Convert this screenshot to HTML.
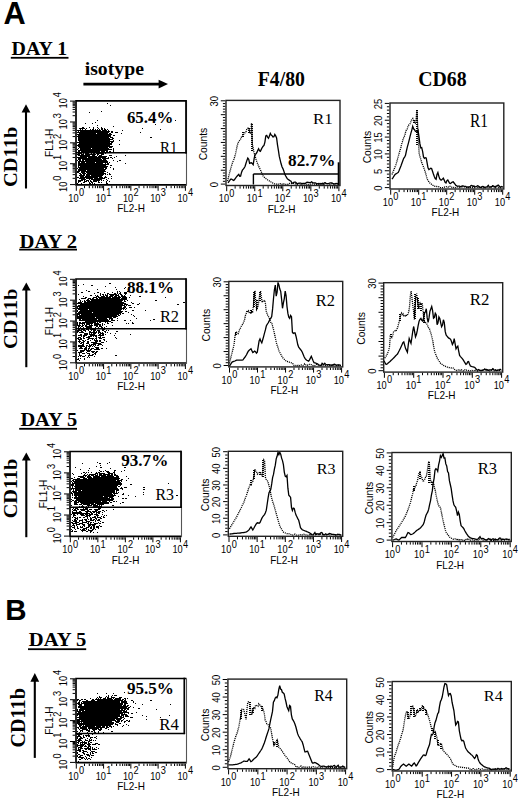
<!DOCTYPE html>
<html><head><meta charset="utf-8"><title>Figure</title>
<style>html,body{margin:0;padding:0;background:#fff;width:520px;height:802px;overflow:hidden}svg{display:block}</style>
</head><body>
<svg width="520" height="802" viewBox="0 0 520 802" shape-rendering="auto">
<rect width="520" height="802" fill="#fff"/>
<text transform="translate(3.38,24.11) scale(0.996,1)" font-family="Liberation Sans" font-weight="bold" font-size="30.88" fill="#000">A</text>
<text transform="translate(5.33,620.00) scale(0.993,1)" font-family="Liberation Sans" font-weight="bold" font-size="29.71" fill="#000">B</text>
<text transform="translate(11.60,55.00) scale(1.004,1)" font-family="Liberation Serif" font-weight="bold" font-size="19.85" fill="#000">DAY 1</text>
<rect x="10.8" y="56.9" width="57.7" height="1.8" fill="#000"/>
<text transform="translate(19.59,247.61) scale(1.082,1)" font-family="Liberation Serif" font-weight="bold" font-size="19.10" fill="#000">DAY 2</text>
<rect x="19.2" y="248.7" width="57.8" height="1.8" fill="#000"/>
<text transform="translate(20.39,425.81) scale(1.094,1)" font-family="Liberation Serif" font-weight="bold" font-size="18.66" fill="#000">DAY 5</text>
<rect x="19.2" y="427.90000000000003" width="57.8" height="1.8" fill="#000"/>
<text transform="translate(28.79,646.31) scale(1.095,1)" font-family="Liberation Serif" font-weight="bold" font-size="18.81" fill="#000">DAY 5</text>
<rect x="28" y="648.3000000000001" width="58.2" height="1.8" fill="#000"/>
<text transform="translate(84.71,75.12) scale(1.015,1)" font-family="Liberation Serif" font-weight="bold" font-size="19.44" fill="#000">isotype</text>
<line x1="83.4" y1="84.1" x2="160" y2="84.1" stroke="#000" stroke-width="2.6"/>
<polygon points="158.6,79.8 168,84.1 158.6,88.4" fill="#000"/>
<text transform="translate(257.70,85.90) scale(0.989,1)" font-family="Liberation Serif" font-weight="bold" font-size="20.00" fill="#000">F4/80</text>
<text transform="translate(418.21,85.89) scale(0.977,1)" font-family="Liberation Serif" font-weight="bold" font-size="20.30" fill="#000">CD68</text>
<text transform="translate(17.00,187.02) rotate(-90) scale(1.047,1)" font-family="Liberation Serif" font-weight="bold" font-size="19.57" fill="#000">CD11b</text>
<line x1="26.0" y1="111.4" x2="26.0" y2="188.5" stroke="#000" stroke-width="2.1"/>
<polygon points="21.6,112.4 26.0,104.3 30.4,112.4" fill="#000"/>
<text transform="translate(16.61,348.92) rotate(-90) scale(1.078,1)" font-family="Liberation Serif" font-weight="bold" font-size="19.00" fill="#000">CD11b</text>
<line x1="26.3" y1="289.6" x2="26.3" y2="367.2" stroke="#000" stroke-width="2.1"/>
<polygon points="21.9,290.6 26.3,282.5 30.700000000000003,290.6" fill="#000"/>
<text transform="translate(16.61,518.31) rotate(-90) scale(1.067,1)" font-family="Liberation Serif" font-weight="bold" font-size="19.00" fill="#000">CD11b</text>
<line x1="26.3" y1="459.6" x2="26.3" y2="537.2" stroke="#000" stroke-width="2.1"/>
<polygon points="21.9,460.6 26.3,452.5 30.700000000000003,460.6" fill="#000"/>
<text transform="translate(25.30,747.61) rotate(-90) scale(0.991,1)" font-family="Liberation Serif" font-weight="bold" font-size="20.43" fill="#000">CD11b</text>
<line x1="34.8" y1="680.8" x2="34.8" y2="757.9" stroke="#000" stroke-width="2.1"/>
<polygon points="30.4,681.8 34.8,673.1 39.199999999999996,681.8" fill="#000"/>
<path d="M107 103h1v1h-1zM110 105h1v1h-1zM101 111h1v1h-1zM89 112h1v1h-1zM97 120h1v1h-1zM175 120h1v1h-1zM167 121h1v1h-1zM95 122h1v1h-1zM85 123h1v1h-1zM92 123h1v1h-1zM155 124h1v1h-1zM97 125h1v1h-1zM113 126h1v1h-1zM82 127h2v1h-2zM89 127h1v1h-1zM93 127h1v1h-1zM97 127h1v1h-1zM101 127h1v1h-1zM79 128h6v1h-6zM86 128h1v1h-1zM93 128h1v1h-1zM98 128h1v1h-1zM101 128h2v1h-2zM104 128h1v1h-1zM142 128h1v1h-1zM80 129h1v1h-1zM82 129h1v1h-1zM85 129h1v1h-1zM90 129h1v1h-1zM92 129h2v1h-2zM95 129h1v1h-1zM97 129h1v1h-1zM99 129h1v1h-1zM101 129h2v1h-2zM104 129h2v1h-2zM107 129h1v1h-1zM160 129h1v1h-1zM77 130h24v1h-24zM102 130h5v1h-5zM108 130h1v1h-1zM122 130h1v1h-1zM78 131h1v1h-1zM80 131h30v1h-30zM111 131h2v1h-2zM77 132h32v1h-32zM111 132h2v1h-2zM115 132h3v1h-3zM140 132h1v1h-1zM79 133h17v1h-17zM97 133h11v1h-11zM109 133h2v1h-2zM121 133h1v1h-1zM77 134h35v1h-35zM78 135h33v1h-33zM113 135h2v1h-2zM77 136h34v1h-34zM78 137h31v1h-31zM110 137h3v1h-3zM150 137h2v1h-2zM78 138h32v1h-32zM112 138h2v1h-2zM78 139h35v1h-35zM78 140h32v1h-32zM113 140h1v1h-1zM119 140h1v1h-1zM79 141h35v1h-35zM77 142h33v1h-33zM111 142h2v1h-2zM79 143h33v1h-33zM78 144h34v1h-34zM119 144h1v1h-1zM77 145h33v1h-33zM78 146h35v1h-35zM79 147h29v1h-29zM109 147h3v1h-3zM78 148h1v1h-1zM80 148h11v1h-11zM92 148h17v1h-17zM113 148h1v1h-1zM77 149h1v1h-1zM80 149h32v1h-32zM113 149h1v1h-1zM78 150h30v1h-30zM113 150h1v1h-1zM78 151h2v1h-2zM81 151h19v1h-19zM101 151h4v1h-4zM106 151h2v1h-2zM109 151h2v1h-2zM113 151h1v1h-1zM81 152h4v1h-4zM86 152h1v1h-1zM88 152h3v1h-3zM93 152h12v1h-12zM108 152h2v1h-2zM78 153h4v1h-4zM83 153h1v1h-1zM85 153h4v1h-4zM91 153h1v1h-1zM93 153h2v1h-2zM96 153h8v1h-8zM105 153h1v1h-1zM77 154h3v1h-3zM81 154h3v1h-3zM85 154h11v1h-11zM97 154h2v1h-2zM101 154h3v1h-3zM78 155h12v1h-12zM92 155h3v1h-3zM97 155h1v1h-1zM99 155h3v1h-3zM109 155h3v1h-3zM125 155h1v1h-1zM80 156h17v1h-17zM98 156h9v1h-9zM116 156h1v1h-1zM77 157h10v1h-10zM88 157h18v1h-18zM108 157h1v1h-1zM110 157h2v1h-2zM114 157h1v1h-1zM78 158h23v1h-23zM102 158h7v1h-7zM112 158h1v1h-1zM78 159h3v1h-3zM82 159h20v1h-20zM103 159h3v1h-3zM77 160h1v1h-1zM79 160h2v1h-2zM82 160h2v1h-2zM85 160h22v1h-22zM113 160h1v1h-1zM119 160h2v1h-2zM78 161h30v1h-30zM117 161h1v1h-1zM78 162h2v1h-2zM81 162h4v1h-4zM86 162h9v1h-9zM96 162h12v1h-12zM109 162h1v1h-1zM78 163h25v1h-25zM105 163h1v1h-1zM107 163h2v1h-2zM125 163h1v1h-1zM78 164h31v1h-31zM78 165h28v1h-28zM110 165h2v1h-2zM78 166h1v1h-1zM80 166h28v1h-28zM78 167h29v1h-29zM110 167h1v1h-1zM77 168h1v1h-1zM79 168h25v1h-25zM105 168h2v1h-2zM113 168h1v1h-1zM78 169h28v1h-28zM113 169h1v1h-1zM78 170h8v1h-8zM87 170h18v1h-18zM77 171h3v1h-3zM81 171h25v1h-25zM77 172h2v1h-2zM81 172h4v1h-4zM86 172h18v1h-18zM107 172h1v1h-1zM79 173h2v1h-2zM82 173h4v1h-4zM87 173h19v1h-19zM109 173h1v1h-1zM80 174h2v1h-2zM83 174h2v1h-2zM86 174h18v1h-18zM105 174h1v1h-1zM107 174h1v1h-1zM109 174h2v1h-2zM79 175h6v1h-6zM86 175h4v1h-4zM91 175h12v1h-12zM80 176h4v1h-4zM85 176h17v1h-17zM105 176h1v1h-1zM111 176h1v1h-1zM77 177h2v1h-2zM80 177h18v1h-18zM99 177h4v1h-4zM104 177h3v1h-3zM79 178h6v1h-6zM86 178h7v1h-7zM94 178h11v1h-11zM108 178h1v1h-1zM111 178h1v1h-1zM81 179h5v1h-5zM89 179h1v1h-1zM91 179h11v1h-11zM106 179h1v1h-1zM78 180h5v1h-5zM84 180h1v1h-1zM86 180h3v1h-3zM90 180h1v1h-1zM93 180h7v1h-7zM101 180h1v1h-1zM103 180h1v1h-1zM107 180h1v1h-1zM78 181h3v1h-3zM84 181h3v1h-3zM88 181h1v1h-1zM90 181h2v1h-2zM93 181h4v1h-4zM98 181h1v1h-1zM106 181h1v1h-1zM109 181h1v1h-1zM78 182h1v1h-1zM83 182h2v1h-2zM89 182h1v1h-1zM91 182h2v1h-2zM98 182h2v1h-2zM101 182h1v1h-1zM106 182h1v1h-1zM77 183h1v1h-1zM81 183h1v1h-1zM89 183h2v1h-2zM92 183h1v1h-1zM94 183h1v1h-1zM106 183h2v1h-2z" fill="#000"/>
<path d="M186.50 100.80H76.00V184.80H186.50" fill="none" stroke="#000" stroke-width="1.7"/>
<line x1="186.50" y1="100.80" x2="186.50" y2="185.60" stroke="#555" stroke-width="1.1"/>
<line x1="76.00" y1="152.80" x2="186.80" y2="152.80" stroke="#000" stroke-width="1.5"/>
<line x1="186.00" y1="100.00" x2="186.00" y2="153.50" stroke="#000" stroke-width="1.7"/>
<path d="M76.30 185.80v5M84.51 185.80v2.4M89.31 185.80v2.4M92.72 185.80v2.4M95.36 185.80v2.4M97.52 185.80v2.4M99.35 185.80v2.4M100.93 185.80v2.4M102.33 185.80v2.4M103.58 185.80v5M111.79 185.80v2.4M116.59 185.80v2.4M120.00 185.80v2.4M122.64 185.80v2.4M124.80 185.80v2.4M126.63 185.80v2.4M128.21 185.80v2.4M129.60 185.80v2.4M130.85 185.80v5M139.06 185.80v2.4M143.86 185.80v2.4M147.27 185.80v2.4M149.91 185.80v2.4M152.07 185.80v2.4M153.90 185.80v2.4M155.48 185.80v2.4M156.88 185.80v2.4M158.12 185.80v5M166.34 185.80v2.4M171.14 185.80v2.4M174.55 185.80v2.4M177.19 185.80v2.4M179.35 185.80v2.4M181.18 185.80v2.4M182.76 185.80v2.4M184.15 185.80v2.4M185.40 185.80v5" stroke="#000" stroke-width="1" fill="none"/>
<path d="M75.00 184.60h-5M75.00 178.32h-2.4M75.00 174.64h-2.4M75.00 172.03h-2.4M75.00 170.01h-2.4M75.00 168.36h-2.4M75.00 166.96h-2.4M75.00 165.75h-2.4M75.00 164.68h-2.4M75.00 163.73h-5M75.00 157.44h-2.4M75.00 153.77h-2.4M75.00 151.16h-2.4M75.00 149.13h-2.4M75.00 147.48h-2.4M75.00 146.08h-2.4M75.00 144.87h-2.4M75.00 143.81h-2.4M75.00 142.85h-5M75.00 136.57h-2.4M75.00 132.89h-2.4M75.00 130.28h-2.4M75.00 128.26h-2.4M75.00 126.61h-2.4M75.00 125.21h-2.4M75.00 124.00h-2.4M75.00 122.93h-2.4M75.00 121.97h-5M75.00 115.69h-2.4M75.00 112.02h-2.4M75.00 109.41h-2.4M75.00 107.38h-2.4M75.00 105.73h-2.4M75.00 104.33h-2.4M75.00 103.12h-2.4M75.00 102.06h-2.4M75.00 101.10h-5" stroke="#000" stroke-width="1" fill="none"/>
<text transform="translate(68.36,201.70) scale(0.840,1)" font-family="Liberation Sans" font-weight="normal" font-size="11">10</text>
<text transform="translate(78.93,196.10) scale(0.840,1)" font-family="Liberation Sans" font-weight="normal" font-size="11">0</text>
<text transform="translate(95.64,201.70) scale(0.840,1)" font-family="Liberation Sans" font-weight="normal" font-size="11">10</text>
<text transform="translate(106.20,196.10) scale(0.840,1)" font-family="Liberation Sans" font-weight="normal" font-size="11">1</text>
<text transform="translate(122.91,201.70) scale(0.840,1)" font-family="Liberation Sans" font-weight="normal" font-size="11">10</text>
<text transform="translate(133.48,196.10) scale(0.840,1)" font-family="Liberation Sans" font-weight="normal" font-size="11">2</text>
<text transform="translate(150.19,201.70) scale(0.840,1)" font-family="Liberation Sans" font-weight="normal" font-size="11">10</text>
<text transform="translate(160.75,196.10) scale(0.840,1)" font-family="Liberation Sans" font-weight="normal" font-size="11">3</text>
<text transform="translate(177.46,201.70) scale(0.840,1)" font-family="Liberation Sans" font-weight="normal" font-size="11">10</text>
<text transform="translate(188.03,196.10) scale(0.840,1)" font-family="Liberation Sans" font-weight="normal" font-size="11">4</text>
<text transform="translate(131.00,212.00) scale(0.950,1)" font-family="Liberation Sans" font-weight="normal" font-size="10.5" text-anchor="middle">FL2-H</text>
<text transform="translate(66.60,192.00) rotate(-90) scale(0.840,1)" font-family="Liberation Sans" font-weight="normal" font-size="11">10</text>
<text transform="translate(61.00,180.80) rotate(-90) scale(0.840,1)" font-family="Liberation Sans" font-weight="normal" font-size="11">0</text>
<text transform="translate(66.60,171.13) rotate(-90) scale(0.840,1)" font-family="Liberation Sans" font-weight="normal" font-size="11">10</text>
<text transform="translate(61.00,159.93) rotate(-90) scale(0.840,1)" font-family="Liberation Sans" font-weight="normal" font-size="11">1</text>
<text transform="translate(66.60,150.25) rotate(-90) scale(0.840,1)" font-family="Liberation Sans" font-weight="normal" font-size="11">10</text>
<text transform="translate(61.00,139.05) rotate(-90) scale(0.840,1)" font-family="Liberation Sans" font-weight="normal" font-size="11">2</text>
<text transform="translate(66.60,129.38) rotate(-90) scale(0.840,1)" font-family="Liberation Sans" font-weight="normal" font-size="11">10</text>
<text transform="translate(61.00,118.17) rotate(-90) scale(0.840,1)" font-family="Liberation Sans" font-weight="normal" font-size="11">3</text>
<text transform="translate(66.60,108.50) rotate(-90) scale(0.840,1)" font-family="Liberation Sans" font-weight="normal" font-size="11">10</text>
<text transform="translate(61.00,97.30) rotate(-90) scale(0.840,1)" font-family="Liberation Sans" font-weight="normal" font-size="11">4</text>
<text transform="translate(52.50,142.80) rotate(-90) scale(0.980,1)" font-family="Liberation Sans" font-weight="normal" font-size="10.5" text-anchor="middle">FL1-H</text>
<text transform="translate(126.89,123.26) scale(0.984,1)" font-family="Liberation Serif" font-weight="bold" font-size="17.16" fill="#000">65.4%</text>
<text transform="translate(159.95,152.50) scale(0.911,1)" font-family="Liberation Serif" font-weight="normal" font-size="16.36" fill="#000">R1</text>
<path d="M109 283h2v1h-2zM83 284h1v1h-1zM78 285h1v1h-1zM91 285h2v1h-2zM105 286h1v1h-1zM115 287h1v1h-1zM125 287h1v1h-1zM128 287h2v1h-2zM124 288h1v1h-1zM97 289h1v1h-1zM116 289h1v1h-1zM86 290h1v1h-1zM88 291h2v1h-2zM117 291h1v1h-1zM119 291h1v1h-1zM127 291h2v1h-2zM81 292h2v1h-2zM97 292h2v1h-2zM104 292h1v1h-1zM112 292h1v1h-1zM117 292h1v1h-1zM120 292h1v1h-1zM124 292h3v1h-3zM94 293h1v1h-1zM100 293h1v1h-1zM107 293h2v1h-2zM114 293h2v1h-2zM117 293h1v1h-1zM119 293h2v1h-2zM124 293h3v1h-3zM78 294h1v1h-1zM100 294h1v1h-1zM102 294h2v1h-2zM105 294h1v1h-1zM107 294h1v1h-1zM109 294h8v1h-8zM118 294h1v1h-1zM120 294h2v1h-2zM125 294h1v1h-1zM90 295h2v1h-2zM95 295h1v1h-1zM97 295h1v1h-1zM100 295h1v1h-1zM103 295h1v1h-1zM105 295h3v1h-3zM110 295h4v1h-4zM115 295h4v1h-4zM121 295h2v1h-2zM124 295h1v1h-1zM130 295h1v1h-1zM83 296h1v1h-1zM96 296h3v1h-3zM101 296h4v1h-4zM106 296h2v1h-2zM109 296h4v1h-4zM114 296h3v1h-3zM118 296h2v1h-2zM121 296h5v1h-5zM139 296h2v1h-2zM85 297h2v1h-2zM93 297h4v1h-4zM98 297h13v1h-13zM112 297h9v1h-9zM122 297h5v1h-5zM129 297h1v1h-1zM165 297h1v1h-1zM81 298h5v1h-5zM88 298h3v1h-3zM92 298h2v1h-2zM96 298h2v1h-2zM99 298h21v1h-21zM121 298h6v1h-6zM79 299h1v1h-1zM87 299h2v1h-2zM90 299h37v1h-37zM80 300h1v1h-1zM84 300h1v1h-1zM86 300h4v1h-4zM91 300h32v1h-32zM124 300h1v1h-1zM127 300h1v1h-1zM155 300h2v1h-2zM80 301h1v1h-1zM82 301h1v1h-1zM84 301h2v1h-2zM87 301h35v1h-35zM124 301h2v1h-2zM78 302h4v1h-4zM84 302h40v1h-40zM131 302h1v1h-1zM183 302h2v1h-2zM77 303h49v1h-49zM132 303h2v1h-2zM139 303h1v1h-1zM80 304h43v1h-43zM124 304h4v1h-4zM137 304h2v1h-2zM177 304h2v1h-2zM78 305h47v1h-47zM126 305h1v1h-1zM128 305h3v1h-3zM77 306h45v1h-45zM124 306h2v1h-2zM77 307h1v1h-1zM79 307h43v1h-43zM123 307h3v1h-3zM129 307h3v1h-3zM134 307h1v1h-1zM77 308h48v1h-48zM126 308h1v1h-1zM78 309h10v1h-10zM89 309h33v1h-33zM123 309h1v1h-1zM125 309h1v1h-1zM77 310h1v1h-1zM80 310h41v1h-41zM132 310h2v1h-2zM145 310h1v1h-1zM77 311h1v1h-1zM79 311h44v1h-44zM125 311h2v1h-2zM78 312h14v1h-14zM93 312h29v1h-29zM128 312h1v1h-1zM77 313h44v1h-44zM122 313h2v1h-2zM77 314h3v1h-3zM81 314h38v1h-38zM120 314h1v1h-1zM131 314h1v1h-1zM77 315h1v1h-1zM79 315h38v1h-38zM118 315h2v1h-2zM133 315h1v1h-1zM77 316h41v1h-41zM134 316h1v1h-1zM77 317h18v1h-18zM96 317h16v1h-16zM113 317h3v1h-3zM77 318h30v1h-30zM109 318h4v1h-4zM117 318h1v1h-1zM136 318h1v1h-1zM79 319h2v1h-2zM82 319h15v1h-15zM98 319h10v1h-10zM109 319h1v1h-1zM111 319h2v1h-2zM153 319h2v1h-2zM79 320h30v1h-30zM111 320h4v1h-4zM117 320h1v1h-1zM124 320h2v1h-2zM130 320h1v1h-1zM150 320h1v1h-1zM85 321h26v1h-26zM77 322h1v1h-1zM79 322h2v1h-2zM82 322h14v1h-14zM97 322h1v1h-1zM99 322h2v1h-2zM105 322h1v1h-1zM107 322h1v1h-1zM111 322h2v1h-2zM132 322h1v1h-1zM77 323h1v1h-1zM79 323h6v1h-6zM86 323h7v1h-7zM94 323h5v1h-5zM102 323h1v1h-1zM107 323h2v1h-2zM126 323h1v1h-1zM128 323h1v1h-1zM132 323h2v1h-2zM77 324h1v1h-1zM79 324h1v1h-1zM82 324h1v1h-1zM84 324h1v1h-1zM86 324h4v1h-4zM91 324h1v1h-1zM94 324h7v1h-7zM102 324h1v1h-1zM104 324h1v1h-1zM77 325h4v1h-4zM82 325h2v1h-2zM85 325h2v1h-2zM89 325h4v1h-4zM94 325h4v1h-4zM99 325h2v1h-2zM102 325h1v1h-1zM112 325h1v1h-1zM78 326h2v1h-2zM81 326h2v1h-2zM85 326h7v1h-7zM96 326h2v1h-2zM99 326h3v1h-3zM106 326h1v1h-1zM78 327h1v1h-1zM80 327h1v1h-1zM83 327h1v1h-1zM86 327h6v1h-6zM95 327h1v1h-1zM98 327h1v1h-1zM101 327h2v1h-2zM104 327h1v1h-1zM78 328h5v1h-5zM84 328h2v1h-2zM87 328h4v1h-4zM93 328h4v1h-4zM98 328h4v1h-4zM104 328h2v1h-2zM78 329h2v1h-2zM81 329h4v1h-4zM86 329h3v1h-3zM90 329h6v1h-6zM102 329h3v1h-3zM77 330h5v1h-5zM83 330h3v1h-3zM88 330h1v1h-1zM91 330h1v1h-1zM93 330h3v1h-3zM97 330h3v1h-3zM102 330h2v1h-2zM106 330h1v1h-1zM108 330h1v1h-1zM77 331h2v1h-2zM81 331h2v1h-2zM85 331h1v1h-1zM89 331h2v1h-2zM93 331h2v1h-2zM96 331h1v1h-1zM98 331h2v1h-2zM104 331h2v1h-2zM116 331h2v1h-2zM77 332h1v1h-1zM79 332h5v1h-5zM89 332h8v1h-8zM98 332h3v1h-3zM102 332h1v1h-1zM105 332h1v1h-1zM107 332h1v1h-1zM84 333h4v1h-4zM89 333h1v1h-1zM91 333h1v1h-1zM93 333h3v1h-3zM98 333h1v1h-1zM100 333h4v1h-4zM110 333h1v1h-1zM115 333h1v1h-1zM80 334h2v1h-2zM84 334h4v1h-4zM89 334h6v1h-6zM99 334h2v1h-2zM102 334h2v1h-2zM105 334h1v1h-1zM130 334h1v1h-1zM78 335h4v1h-4zM83 335h4v1h-4zM90 335h7v1h-7zM98 335h6v1h-6zM114 335h1v1h-1zM81 336h1v1h-1zM83 336h2v1h-2zM88 336h4v1h-4zM93 336h1v1h-1zM95 336h2v1h-2zM100 336h1v1h-1zM78 337h3v1h-3zM83 337h1v1h-1zM86 337h4v1h-4zM96 337h1v1h-1zM98 337h3v1h-3zM102 337h3v1h-3zM115 337h1v1h-1zM77 338h2v1h-2zM80 338h2v1h-2zM83 338h2v1h-2zM88 338h6v1h-6zM95 338h2v1h-2zM99 338h3v1h-3zM116 338h1v1h-1zM78 339h4v1h-4zM87 339h2v1h-2zM92 339h1v1h-1zM94 339h1v1h-1zM96 339h1v1h-1zM103 339h2v1h-2zM79 340h1v1h-1zM82 340h2v1h-2zM85 340h1v1h-1zM90 340h1v1h-1zM94 340h4v1h-4zM99 340h2v1h-2zM104 340h1v1h-1zM78 341h3v1h-3zM83 341h2v1h-2zM87 341h2v1h-2zM95 341h3v1h-3zM99 341h2v1h-2zM106 341h1v1h-1zM79 342h1v1h-1zM81 342h3v1h-3zM87 342h2v1h-2zM91 342h6v1h-6zM101 342h3v1h-3zM80 343h2v1h-2zM83 343h1v1h-1zM86 343h3v1h-3zM93 343h8v1h-8zM82 344h2v1h-2zM89 344h1v1h-1zM91 344h5v1h-5zM98 344h4v1h-4zM78 345h6v1h-6zM86 345h2v1h-2zM89 345h3v1h-3zM93 345h1v1h-1zM95 345h1v1h-1zM97 345h2v1h-2zM102 345h1v1h-1zM78 346h7v1h-7zM86 346h1v1h-1zM88 346h3v1h-3zM92 346h1v1h-1zM94 346h1v1h-1zM80 347h2v1h-2zM85 347h2v1h-2zM89 347h1v1h-1zM95 347h4v1h-4zM79 348h4v1h-4zM84 348h3v1h-3zM88 348h2v1h-2zM91 348h3v1h-3zM96 348h3v1h-3zM101 348h2v1h-2zM106 348h1v1h-1zM84 349h3v1h-3zM88 349h1v1h-1zM90 349h2v1h-2zM94 349h6v1h-6zM77 350h1v1h-1zM80 350h5v1h-5zM86 350h5v1h-5zM80 351h4v1h-4zM87 351h3v1h-3zM91 351h4v1h-4zM96 351h2v1h-2zM78 352h4v1h-4zM86 352h1v1h-1zM92 352h2v1h-2zM95 352h2v1h-2zM79 353h1v1h-1zM82 353h3v1h-3zM87 353h3v1h-3zM94 353h2v1h-2zM79 354h1v1h-1zM89 354h1v1h-1zM92 354h2v1h-2zM95 354h1v1h-1zM79 355h3v1h-3zM85 355h1v1h-1zM88 355h5v1h-5zM115 355h2v1h-2zM78 356h1v1h-1zM80 356h1v1h-1zM82 356h3v1h-3zM88 356h1v1h-1zM94 356h1v1h-1zM87 357h1v1h-1zM89 357h1v1h-1zM78 358h1v1h-1zM80 358h1v1h-1zM84 358h1v1h-1zM77 359h2v1h-2zM84 359h1v1h-1zM79 360h1v1h-1z" fill="#000"/>
<path d="M186.50 279.00H76.00V363.00H186.50" fill="none" stroke="#000" stroke-width="1.7"/>
<line x1="186.50" y1="279.00" x2="186.50" y2="363.80" stroke="#555" stroke-width="1.1"/>
<line x1="76.00" y1="328.80" x2="186.80" y2="328.80" stroke="#000" stroke-width="1.5"/>
<line x1="186.00" y1="278.20" x2="186.00" y2="329.50" stroke="#000" stroke-width="1.7"/>
<path d="M76.30 364.00v5M84.51 364.00v2.4M89.31 364.00v2.4M92.72 364.00v2.4M95.36 364.00v2.4M97.52 364.00v2.4M99.35 364.00v2.4M100.93 364.00v2.4M102.33 364.00v2.4M103.58 364.00v5M111.79 364.00v2.4M116.59 364.00v2.4M120.00 364.00v2.4M122.64 364.00v2.4M124.80 364.00v2.4M126.63 364.00v2.4M128.21 364.00v2.4M129.60 364.00v2.4M130.85 364.00v5M139.06 364.00v2.4M143.86 364.00v2.4M147.27 364.00v2.4M149.91 364.00v2.4M152.07 364.00v2.4M153.90 364.00v2.4M155.48 364.00v2.4M156.88 364.00v2.4M158.12 364.00v5M166.34 364.00v2.4M171.14 364.00v2.4M174.55 364.00v2.4M177.19 364.00v2.4M179.35 364.00v2.4M181.18 364.00v2.4M182.76 364.00v2.4M184.15 364.00v2.4M185.40 364.00v5" stroke="#000" stroke-width="1" fill="none"/>
<path d="M75.00 362.80h-5M75.00 356.52h-2.4M75.00 352.84h-2.4M75.00 350.23h-2.4M75.00 348.21h-2.4M75.00 346.56h-2.4M75.00 345.16h-2.4M75.00 343.95h-2.4M75.00 342.88h-2.4M75.00 341.93h-5M75.00 335.64h-2.4M75.00 331.97h-2.4M75.00 329.36h-2.4M75.00 327.33h-2.4M75.00 325.68h-2.4M75.00 324.28h-2.4M75.00 323.07h-2.4M75.00 322.01h-2.4M75.00 321.05h-5M75.00 314.77h-2.4M75.00 311.09h-2.4M75.00 308.48h-2.4M75.00 306.46h-2.4M75.00 304.81h-2.4M75.00 303.41h-2.4M75.00 302.20h-2.4M75.00 301.13h-2.4M75.00 300.18h-5M75.00 293.89h-2.4M75.00 290.22h-2.4M75.00 287.61h-2.4M75.00 285.58h-2.4M75.00 283.93h-2.4M75.00 282.53h-2.4M75.00 281.32h-2.4M75.00 280.26h-2.4M75.00 279.30h-5" stroke="#000" stroke-width="1" fill="none"/>
<text transform="translate(68.36,379.90) scale(0.840,1)" font-family="Liberation Sans" font-weight="normal" font-size="11">10</text>
<text transform="translate(78.93,374.30) scale(0.840,1)" font-family="Liberation Sans" font-weight="normal" font-size="11">0</text>
<text transform="translate(95.64,379.90) scale(0.840,1)" font-family="Liberation Sans" font-weight="normal" font-size="11">10</text>
<text transform="translate(106.20,374.30) scale(0.840,1)" font-family="Liberation Sans" font-weight="normal" font-size="11">1</text>
<text transform="translate(122.91,379.90) scale(0.840,1)" font-family="Liberation Sans" font-weight="normal" font-size="11">10</text>
<text transform="translate(133.48,374.30) scale(0.840,1)" font-family="Liberation Sans" font-weight="normal" font-size="11">2</text>
<text transform="translate(150.19,379.90) scale(0.840,1)" font-family="Liberation Sans" font-weight="normal" font-size="11">10</text>
<text transform="translate(160.75,374.30) scale(0.840,1)" font-family="Liberation Sans" font-weight="normal" font-size="11">3</text>
<text transform="translate(177.46,379.90) scale(0.840,1)" font-family="Liberation Sans" font-weight="normal" font-size="11">10</text>
<text transform="translate(188.03,374.30) scale(0.840,1)" font-family="Liberation Sans" font-weight="normal" font-size="11">4</text>
<text transform="translate(131.00,390.20) scale(0.950,1)" font-family="Liberation Sans" font-weight="normal" font-size="10.5" text-anchor="middle">FL2-H</text>
<text transform="translate(66.60,370.20) rotate(-90) scale(0.840,1)" font-family="Liberation Sans" font-weight="normal" font-size="11">10</text>
<text transform="translate(61.00,359.00) rotate(-90) scale(0.840,1)" font-family="Liberation Sans" font-weight="normal" font-size="11">0</text>
<text transform="translate(66.60,349.32) rotate(-90) scale(0.840,1)" font-family="Liberation Sans" font-weight="normal" font-size="11">10</text>
<text transform="translate(61.00,338.12) rotate(-90) scale(0.840,1)" font-family="Liberation Sans" font-weight="normal" font-size="11">1</text>
<text transform="translate(66.60,328.45) rotate(-90) scale(0.840,1)" font-family="Liberation Sans" font-weight="normal" font-size="11">10</text>
<text transform="translate(61.00,317.25) rotate(-90) scale(0.840,1)" font-family="Liberation Sans" font-weight="normal" font-size="11">2</text>
<text transform="translate(66.60,307.57) rotate(-90) scale(0.840,1)" font-family="Liberation Sans" font-weight="normal" font-size="11">10</text>
<text transform="translate(61.00,296.38) rotate(-90) scale(0.840,1)" font-family="Liberation Sans" font-weight="normal" font-size="11">3</text>
<text transform="translate(66.60,286.70) rotate(-90) scale(0.840,1)" font-family="Liberation Sans" font-weight="normal" font-size="11">10</text>
<text transform="translate(61.00,275.50) rotate(-90) scale(0.840,1)" font-family="Liberation Sans" font-weight="normal" font-size="11">4</text>
<text transform="translate(52.50,321.00) rotate(-90) scale(0.980,1)" font-family="Liberation Sans" font-weight="normal" font-size="10.5" text-anchor="middle">FL1-H</text>
<text transform="translate(126.89,292.77) scale(1.032,1)" font-family="Liberation Serif" font-weight="bold" font-size="16.62" fill="#000">88.1%</text>
<text transform="translate(159.91,322.40) scale(0.934,1)" font-family="Liberation Serif" font-weight="normal" font-size="17.54" fill="#000">R2</text>
<path d="M97 462h1v1h-1zM109 462h1v1h-1zM82 463h1v1h-1zM99 463h2v1h-2zM107 463h1v1h-1zM100 465h1v1h-1zM96 466h1v1h-1zM75 467h1v1h-1zM100 467h2v1h-2zM124 467h2v1h-2zM89 468h1v1h-1zM110 468h1v1h-1zM80 469h1v1h-1zM88 470h1v1h-1zM99 470h1v1h-1zM105 470h1v1h-1zM114 470h2v1h-2zM124 470h1v1h-1zM100 471h2v1h-2zM103 471h1v1h-1zM106 471h3v1h-3zM114 471h1v1h-1zM121 471h1v1h-1zM83 472h2v1h-2zM86 472h1v1h-1zM88 472h1v1h-1zM91 472h1v1h-1zM96 472h1v1h-1zM98 472h2v1h-2zM107 472h3v1h-3zM113 472h2v1h-2zM72 473h1v1h-1zM81 473h1v1h-1zM85 473h1v1h-1zM95 473h3v1h-3zM99 473h6v1h-6zM108 473h5v1h-5zM114 473h1v1h-1zM73 474h1v1h-1zM84 474h1v1h-1zM87 474h1v1h-1zM89 474h7v1h-7zM97 474h1v1h-1zM99 474h3v1h-3zM103 474h7v1h-7zM111 474h2v1h-2zM114 474h2v1h-2zM83 475h4v1h-4zM88 475h2v1h-2zM91 475h3v1h-3zM95 475h3v1h-3zM99 475h7v1h-7zM107 475h6v1h-6zM114 475h4v1h-4zM78 476h6v1h-6zM85 476h1v1h-1zM87 476h4v1h-4zM93 476h7v1h-7zM101 476h13v1h-13zM116 476h3v1h-3zM126 476h1v1h-1zM74 477h1v1h-1zM80 477h5v1h-5zM87 477h5v1h-5zM93 477h26v1h-26zM71 478h2v1h-2zM77 478h3v1h-3zM83 478h4v1h-4zM88 478h32v1h-32zM128 478h1v1h-1zM73 479h46v1h-46zM121 479h2v1h-2zM72 480h2v1h-2zM75 480h41v1h-41zM117 480h5v1h-5zM126 480h1v1h-1zM71 481h1v1h-1zM73 481h47v1h-47zM121 481h1v1h-1zM72 482h1v1h-1zM74 482h47v1h-47zM72 483h50v1h-50zM168 483h1v1h-1zM71 484h3v1h-3zM75 484h47v1h-47zM130 484h2v1h-2zM71 485h3v1h-3zM75 485h43v1h-43zM120 485h1v1h-1zM72 486h1v1h-1zM74 486h43v1h-43zM118 486h2v1h-2zM72 487h1v1h-1zM75 487h42v1h-42zM121 487h1v1h-1zM124 487h3v1h-3zM143 487h2v1h-2zM71 488h47v1h-47zM120 488h3v1h-3zM71 489h1v1h-1zM73 489h1v1h-1zM75 489h44v1h-44zM122 489h1v1h-1zM143 489h2v1h-2zM73 490h1v1h-1zM75 490h6v1h-6zM82 490h33v1h-33zM116 490h3v1h-3zM72 491h5v1h-5zM78 491h37v1h-37zM116 491h1v1h-1zM71 492h1v1h-1zM73 492h42v1h-42zM116 492h1v1h-1zM118 492h1v1h-1zM143 492h1v1h-1zM71 493h2v1h-2zM74 493h38v1h-38zM113 493h5v1h-5zM123 493h1v1h-1zM72 494h1v1h-1zM74 494h39v1h-39zM114 494h1v1h-1zM122 494h2v1h-2zM143 494h1v1h-1zM72 495h1v1h-1zM74 495h42v1h-42zM128 495h1v1h-1zM176 495h2v1h-2zM75 496h2v1h-2zM78 496h25v1h-25zM104 496h10v1h-10zM118 496h1v1h-1zM135 496h1v1h-1zM72 497h1v1h-1zM74 497h34v1h-34zM109 497h4v1h-4zM74 498h36v1h-36zM111 498h3v1h-3zM122 498h2v1h-2zM125 498h2v1h-2zM71 499h1v1h-1zM76 499h38v1h-38zM72 500h2v1h-2zM75 500h38v1h-38zM71 501h1v1h-1zM74 501h3v1h-3zM78 501h23v1h-23zM102 501h5v1h-5zM109 501h1v1h-1zM113 501h2v1h-2zM116 501h1v1h-1zM74 502h5v1h-5zM80 502h29v1h-29zM110 502h2v1h-2zM122 502h2v1h-2zM74 503h3v1h-3zM81 503h13v1h-13zM95 503h14v1h-14zM120 503h1v1h-1zM74 504h4v1h-4zM79 504h3v1h-3zM83 504h7v1h-7zM91 504h5v1h-5zM97 504h7v1h-7zM71 505h1v1h-1zM82 505h1v1h-1zM87 505h5v1h-5zM93 505h5v1h-5zM99 505h1v1h-1zM101 505h1v1h-1zM112 505h2v1h-2zM79 506h1v1h-1zM81 506h3v1h-3zM86 506h1v1h-1zM88 506h1v1h-1zM93 506h9v1h-9zM74 507h3v1h-3zM81 507h1v1h-1zM85 507h5v1h-5zM91 507h1v1h-1zM93 507h1v1h-1zM95 507h1v1h-1zM98 507h1v1h-1zM140 507h1v1h-1zM73 508h1v1h-1zM75 508h3v1h-3zM83 508h1v1h-1zM85 508h3v1h-3zM98 508h3v1h-3zM72 509h1v1h-1zM74 509h2v1h-2zM77 509h2v1h-2zM80 509h8v1h-8zM89 509h3v1h-3zM94 509h6v1h-6zM113 509h1v1h-1zM73 510h4v1h-4zM81 510h4v1h-4zM87 510h2v1h-2zM95 510h3v1h-3zM102 510h2v1h-2zM106 510h1v1h-1zM72 511h1v1h-1zM76 511h1v1h-1zM79 511h2v1h-2zM85 511h6v1h-6zM92 511h5v1h-5zM98 511h3v1h-3zM104 511h1v1h-1zM72 512h10v1h-10zM86 512h2v1h-2zM90 512h2v1h-2zM93 512h2v1h-2zM96 512h4v1h-4zM102 512h1v1h-1zM72 513h18v1h-18zM91 513h2v1h-2zM96 513h1v1h-1zM98 513h2v1h-2zM71 514h1v1h-1zM73 514h2v1h-2zM77 514h1v1h-1zM80 514h4v1h-4zM85 514h3v1h-3zM89 514h4v1h-4zM94 514h4v1h-4zM102 514h1v1h-1zM73 515h3v1h-3zM81 515h4v1h-4zM86 515h5v1h-5zM96 515h3v1h-3zM104 515h1v1h-1zM106 515h1v1h-1zM73 516h1v1h-1zM85 516h3v1h-3zM89 516h1v1h-1zM94 516h2v1h-2zM97 516h1v1h-1zM101 516h1v1h-1zM103 516h1v1h-1zM72 517h1v1h-1zM74 517h2v1h-2zM77 517h1v1h-1zM79 517h2v1h-2zM83 517h2v1h-2zM87 517h1v1h-1zM90 517h1v1h-1zM92 517h4v1h-4zM97 517h4v1h-4zM103 517h2v1h-2zM75 518h3v1h-3zM87 518h1v1h-1zM90 518h2v1h-2zM95 518h2v1h-2zM100 518h2v1h-2zM74 519h2v1h-2zM77 519h1v1h-1zM82 519h1v1h-1zM84 519h3v1h-3zM88 519h1v1h-1zM90 519h2v1h-2zM93 519h2v1h-2zM96 519h1v1h-1zM98 519h2v1h-2zM72 520h1v1h-1zM74 520h3v1h-3zM79 520h4v1h-4zM85 520h2v1h-2zM90 520h4v1h-4zM95 520h1v1h-1zM97 520h3v1h-3zM73 521h4v1h-4zM79 521h1v1h-1zM82 521h1v1h-1zM86 521h4v1h-4zM95 521h1v1h-1zM100 521h1v1h-1zM71 522h2v1h-2zM75 522h4v1h-4zM82 522h5v1h-5zM88 522h1v1h-1zM90 522h2v1h-2zM93 522h1v1h-1zM98 522h1v1h-1zM102 522h2v1h-2zM72 523h5v1h-5zM79 523h4v1h-4zM87 523h2v1h-2zM90 523h1v1h-1zM94 523h4v1h-4zM99 523h2v1h-2zM73 524h1v1h-1zM76 524h4v1h-4zM82 524h3v1h-3zM88 524h8v1h-8zM72 525h3v1h-3zM76 525h1v1h-1zM83 525h2v1h-2zM88 525h3v1h-3zM92 525h3v1h-3zM99 525h1v1h-1zM71 526h1v1h-1zM74 526h1v1h-1zM77 526h1v1h-1zM80 526h1v1h-1zM82 526h1v1h-1zM84 526h1v1h-1zM88 526h2v1h-2zM91 526h1v1h-1zM93 526h2v1h-2zM96 526h3v1h-3zM100 526h2v1h-2zM72 527h3v1h-3zM77 527h1v1h-1zM80 527h3v1h-3zM86 527h3v1h-3zM90 527h2v1h-2zM93 527h2v1h-2zM96 527h3v1h-3zM74 528h1v1h-1zM77 528h2v1h-2zM83 528h4v1h-4zM90 528h2v1h-2zM93 528h2v1h-2zM98 528h1v1h-1zM71 529h1v1h-1zM75 529h1v1h-1zM80 529h1v1h-1zM82 529h3v1h-3zM86 529h1v1h-1zM88 529h1v1h-1zM92 529h2v1h-2zM95 529h1v1h-1zM72 530h1v1h-1zM81 530h5v1h-5zM88 530h5v1h-5zM71 531h2v1h-2zM74 531h3v1h-3zM82 531h1v1h-1zM86 531h2v1h-2zM90 531h2v1h-2zM90 532h1v1h-1zM93 532h1v1h-1zM97 532h1v1h-1z" fill="#000"/>
<path d="M181.50 451.50H70.00V536.30H181.50" fill="none" stroke="#000" stroke-width="1.7"/>
<line x1="181.50" y1="451.50" x2="181.50" y2="537.10" stroke="#555" stroke-width="1.1"/>
<line x1="70.00" y1="507.20" x2="181.80" y2="507.20" stroke="#000" stroke-width="1.5"/>
<line x1="181.00" y1="450.70" x2="181.00" y2="507.90" stroke="#000" stroke-width="1.7"/>
<path d="M70.30 537.30v5M78.59 537.30v2.4M83.43 537.30v2.4M86.87 537.30v2.4M89.54 537.30v2.4M91.72 537.30v2.4M93.56 537.30v2.4M95.16 537.30v2.4M96.57 537.30v2.4M97.83 537.30v5M106.11 537.30v2.4M110.96 537.30v2.4M114.40 537.30v2.4M117.06 537.30v2.4M119.24 537.30v2.4M121.09 537.30v2.4M122.68 537.30v2.4M124.09 537.30v2.4M125.35 537.30v5M133.64 537.30v2.4M138.48 537.30v2.4M141.92 537.30v2.4M144.59 537.30v2.4M146.77 537.30v2.4M148.61 537.30v2.4M150.21 537.30v2.4M151.62 537.30v2.4M152.88 537.30v5M161.16 537.30v2.4M166.01 537.30v2.4M169.45 537.30v2.4M172.11 537.30v2.4M174.29 537.30v2.4M176.14 537.30v2.4M177.73 537.30v2.4M179.14 537.30v2.4M180.40 537.30v5" stroke="#000" stroke-width="1" fill="none"/>
<path d="M69.00 536.10h-5M69.00 529.76h-2.4M69.00 526.04h-2.4M69.00 523.41h-2.4M69.00 521.37h-2.4M69.00 519.70h-2.4M69.00 518.29h-2.4M69.00 517.07h-2.4M69.00 515.99h-2.4M69.00 515.02h-5M69.00 508.68h-2.4M69.00 504.97h-2.4M69.00 502.34h-2.4M69.00 500.29h-2.4M69.00 498.63h-2.4M69.00 497.21h-2.4M69.00 495.99h-2.4M69.00 494.91h-2.4M69.00 493.95h-5M69.00 487.61h-2.4M69.00 483.89h-2.4M69.00 481.26h-2.4M69.00 479.22h-2.4M69.00 477.55h-2.4M69.00 476.14h-2.4M69.00 474.92h-2.4M69.00 473.84h-2.4M69.00 472.88h-5M69.00 466.53h-2.4M69.00 462.82h-2.4M69.00 460.19h-2.4M69.00 458.14h-2.4M69.00 456.48h-2.4M69.00 455.06h-2.4M69.00 453.84h-2.4M69.00 452.76h-2.4M69.00 451.80h-5" stroke="#000" stroke-width="1" fill="none"/>
<text transform="translate(62.36,553.20) scale(0.840,1)" font-family="Liberation Sans" font-weight="normal" font-size="11">10</text>
<text transform="translate(72.93,547.60) scale(0.840,1)" font-family="Liberation Sans" font-weight="normal" font-size="11">0</text>
<text transform="translate(89.89,553.20) scale(0.840,1)" font-family="Liberation Sans" font-weight="normal" font-size="11">10</text>
<text transform="translate(100.45,547.60) scale(0.840,1)" font-family="Liberation Sans" font-weight="normal" font-size="11">1</text>
<text transform="translate(117.41,553.20) scale(0.840,1)" font-family="Liberation Sans" font-weight="normal" font-size="11">10</text>
<text transform="translate(127.98,547.60) scale(0.840,1)" font-family="Liberation Sans" font-weight="normal" font-size="11">2</text>
<text transform="translate(144.94,553.20) scale(0.840,1)" font-family="Liberation Sans" font-weight="normal" font-size="11">10</text>
<text transform="translate(155.50,547.60) scale(0.840,1)" font-family="Liberation Sans" font-weight="normal" font-size="11">3</text>
<text transform="translate(172.46,553.20) scale(0.840,1)" font-family="Liberation Sans" font-weight="normal" font-size="11">10</text>
<text transform="translate(183.03,547.60) scale(0.840,1)" font-family="Liberation Sans" font-weight="normal" font-size="11">4</text>
<text transform="translate(125.50,563.50) scale(0.950,1)" font-family="Liberation Sans" font-weight="normal" font-size="10.5" text-anchor="middle">FL2-H</text>
<text transform="translate(60.60,543.50) rotate(-90) scale(0.840,1)" font-family="Liberation Sans" font-weight="normal" font-size="11">10</text>
<text transform="translate(55.00,532.30) rotate(-90) scale(0.840,1)" font-family="Liberation Sans" font-weight="normal" font-size="11">0</text>
<text transform="translate(60.60,522.42) rotate(-90) scale(0.840,1)" font-family="Liberation Sans" font-weight="normal" font-size="11">10</text>
<text transform="translate(55.00,511.22) rotate(-90) scale(0.840,1)" font-family="Liberation Sans" font-weight="normal" font-size="11">1</text>
<text transform="translate(60.60,501.35) rotate(-90) scale(0.840,1)" font-family="Liberation Sans" font-weight="normal" font-size="11">10</text>
<text transform="translate(55.00,490.15) rotate(-90) scale(0.840,1)" font-family="Liberation Sans" font-weight="normal" font-size="11">2</text>
<text transform="translate(60.60,480.27) rotate(-90) scale(0.840,1)" font-family="Liberation Sans" font-weight="normal" font-size="11">10</text>
<text transform="translate(55.00,469.07) rotate(-90) scale(0.840,1)" font-family="Liberation Sans" font-weight="normal" font-size="11">3</text>
<text transform="translate(60.60,459.20) rotate(-90) scale(0.840,1)" font-family="Liberation Sans" font-weight="normal" font-size="11">10</text>
<text transform="translate(55.00,448.00) rotate(-90) scale(0.840,1)" font-family="Liberation Sans" font-weight="normal" font-size="11">4</text>
<text transform="translate(46.50,493.90) rotate(-90) scale(0.980,1)" font-family="Liberation Sans" font-weight="normal" font-size="10.5" text-anchor="middle">FL1-H</text>
<text transform="translate(121.19,465.86) scale(0.999,1)" font-family="Liberation Serif" font-weight="bold" font-size="17.16" fill="#000">93.7%</text>
<text transform="translate(155.52,499.64) scale(0.972,1)" font-family="Liberation Serif" font-weight="normal" font-size="16.36" fill="#000">R3</text>
<path d="M124 692h1v1h-1zM97 693h1v1h-1zM106 693h1v1h-1zM113 693h1v1h-1zM108 695h1v1h-1zM112 695h1v1h-1zM114 695h3v1h-3zM99 696h1v1h-1zM106 696h1v1h-1zM108 696h1v1h-1zM111 696h1v1h-1zM97 697h1v1h-1zM99 697h3v1h-3zM105 697h1v1h-1zM107 697h2v1h-2zM111 697h4v1h-4zM119 697h3v1h-3zM90 698h1v1h-1zM96 698h1v1h-1zM98 698h1v1h-1zM100 698h1v1h-1zM103 698h3v1h-3zM107 698h5v1h-5zM113 698h1v1h-1zM115 698h6v1h-6zM124 698h2v1h-2zM127 698h1v1h-1zM77 699h2v1h-2zM81 699h2v1h-2zM84 699h2v1h-2zM92 699h2v1h-2zM95 699h18v1h-18zM114 699h7v1h-7zM122 699h2v1h-2zM125 699h1v1h-1zM77 700h1v1h-1zM79 700h2v1h-2zM86 700h2v1h-2zM91 700h4v1h-4zM97 700h26v1h-26zM124 700h2v1h-2zM131 700h2v1h-2zM150 700h2v1h-2zM79 701h1v1h-1zM82 701h38v1h-38zM121 701h6v1h-6zM133 701h1v1h-1zM78 702h2v1h-2zM81 702h1v1h-1zM83 702h37v1h-37zM121 702h6v1h-6zM133 702h1v1h-1zM77 703h3v1h-3zM81 703h42v1h-42zM124 703h4v1h-4zM135 703h1v1h-1zM78 704h4v1h-4zM84 704h39v1h-39zM124 704h2v1h-2zM142 704h1v1h-1zM170 704h1v1h-1zM79 705h3v1h-3zM84 705h38v1h-38zM123 705h3v1h-3zM127 705h2v1h-2zM78 706h50v1h-50zM130 706h1v1h-1zM78 707h49v1h-49zM128 707h2v1h-2zM133 707h1v1h-1zM80 708h49v1h-49zM138 708h2v1h-2zM77 709h1v1h-1zM79 709h41v1h-41zM121 709h2v1h-2zM124 709h2v1h-2zM127 709h2v1h-2zM156 709h1v1h-1zM77 710h1v1h-1zM79 710h5v1h-5zM85 710h40v1h-40zM126 710h1v1h-1zM77 711h4v1h-4zM82 711h40v1h-40zM123 711h4v1h-4zM78 712h51v1h-51zM136 712h1v1h-1zM77 713h46v1h-46zM124 713h1v1h-1zM128 713h1v1h-1zM131 713h2v1h-2zM77 714h43v1h-43zM121 714h6v1h-6zM77 715h1v1h-1zM79 715h41v1h-41zM121 715h3v1h-3zM125 715h3v1h-3zM142 715h1v1h-1zM169 715h1v1h-1zM79 716h43v1h-43zM123 716h1v1h-1zM125 716h4v1h-4zM146 716h1v1h-1zM77 717h41v1h-41zM120 717h4v1h-4zM130 717h3v1h-3zM160 717h1v1h-1zM79 718h43v1h-43zM124 718h1v1h-1zM77 719h38v1h-38zM116 719h5v1h-5zM123 719h1v1h-1zM146 719h1v1h-1zM77 720h3v1h-3zM81 720h35v1h-35zM117 720h3v1h-3zM121 720h2v1h-2zM126 720h2v1h-2zM129 720h1v1h-1zM77 721h35v1h-35zM115 721h5v1h-5zM121 721h1v1h-1zM124 721h2v1h-2zM128 721h2v1h-2zM77 722h3v1h-3zM81 722h1v1h-1zM83 722h31v1h-31zM116 722h3v1h-3zM124 722h1v1h-1zM77 723h37v1h-37zM115 723h1v1h-1zM119 723h2v1h-2zM78 724h35v1h-35zM115 724h3v1h-3zM126 724h1v1h-1zM79 725h3v1h-3zM83 725h1v1h-1zM85 725h26v1h-26zM117 725h1v1h-1zM123 725h1v1h-1zM128 725h1v1h-1zM79 726h2v1h-2zM82 726h13v1h-13zM96 726h5v1h-5zM102 726h3v1h-3zM106 726h2v1h-2zM109 726h3v1h-3zM113 726h1v1h-1zM122 726h1v1h-1zM77 727h2v1h-2zM80 727h7v1h-7zM88 727h17v1h-17zM106 727h3v1h-3zM111 727h1v1h-1zM78 728h1v1h-1zM80 728h7v1h-7zM88 728h11v1h-11zM100 728h2v1h-2zM105 728h2v1h-2zM79 729h1v1h-1zM82 729h6v1h-6zM89 729h1v1h-1zM92 729h5v1h-5zM98 729h4v1h-4zM108 729h1v1h-1zM80 730h3v1h-3zM86 730h4v1h-4zM93 730h2v1h-2zM99 730h2v1h-2zM77 731h1v1h-1zM80 731h1v1h-1zM82 731h1v1h-1zM88 731h2v1h-2zM91 731h2v1h-2zM94 731h1v1h-1zM98 731h1v1h-1zM111 731h2v1h-2zM79 732h1v1h-1zM87 732h1v1h-1zM94 732h2v1h-2zM98 732h1v1h-1zM103 732h1v1h-1zM80 733h1v1h-1zM88 733h1v1h-1zM77 734h5v1h-5zM88 734h1v1h-1zM92 734h1v1h-1zM78 735h2v1h-2zM83 735h1v1h-1zM85 735h5v1h-5zM77 736h4v1h-4zM83 736h1v1h-1zM86 736h1v1h-1zM88 736h2v1h-2zM96 736h1v1h-1zM77 737h1v1h-1zM80 737h2v1h-2zM83 737h2v1h-2zM90 737h3v1h-3zM94 737h2v1h-2zM77 738h1v1h-1zM79 738h4v1h-4zM87 738h1v1h-1zM90 738h1v1h-1zM96 738h1v1h-1zM78 739h3v1h-3zM85 739h1v1h-1zM89 739h1v1h-1zM91 739h1v1h-1zM77 740h5v1h-5zM85 740h3v1h-3zM89 740h3v1h-3zM93 740h1v1h-1zM95 740h1v1h-1zM78 741h2v1h-2zM82 741h1v1h-1zM84 741h1v1h-1zM88 741h2v1h-2zM77 742h2v1h-2zM80 742h7v1h-7zM88 742h1v1h-1zM90 742h2v1h-2zM78 743h1v1h-1zM80 743h1v1h-1zM82 743h1v1h-1zM84 743h3v1h-3zM88 743h2v1h-2zM95 743h3v1h-3zM77 744h1v1h-1zM80 744h5v1h-5zM87 744h4v1h-4zM92 744h4v1h-4zM98 744h2v1h-2zM77 745h7v1h-7zM85 745h1v1h-1zM88 745h2v1h-2zM77 746h1v1h-1zM80 746h3v1h-3zM84 746h3v1h-3zM88 746h3v1h-3zM78 747h4v1h-4zM87 747h2v1h-2zM90 747h1v1h-1zM92 747h1v1h-1zM96 747h1v1h-1zM78 748h1v1h-1zM80 748h3v1h-3zM84 748h7v1h-7zM92 748h1v1h-1zM94 748h1v1h-1zM98 748h1v1h-1zM78 749h3v1h-3zM85 749h2v1h-2zM88 749h3v1h-3zM92 749h5v1h-5zM77 750h4v1h-4zM82 750h2v1h-2zM90 750h1v1h-1zM79 751h2v1h-2zM83 751h4v1h-4zM91 751h4v1h-4zM77 752h1v1h-1zM82 752h2v1h-2zM87 752h1v1h-1zM90 752h1v1h-1zM92 752h1v1h-1zM95 752h2v1h-2zM77 753h1v1h-1zM83 753h2v1h-2zM90 753h1v1h-1zM92 753h2v1h-2zM78 754h2v1h-2zM84 754h1v1h-1zM86 754h3v1h-3zM90 754h1v1h-1zM77 755h1v1h-1zM80 755h3v1h-3zM87 755h3v1h-3zM91 755h3v1h-3zM77 756h1v1h-1zM79 756h2v1h-2zM85 756h1v1h-1zM89 756h1v1h-1zM78 757h6v1h-6zM86 757h1v1h-1zM91 757h1v1h-1zM81 758h2v1h-2zM84 758h1v1h-1zM86 758h1v1h-1zM88 758h2v1h-2zM79 759h2v1h-2zM85 759h1v1h-1zM87 759h1v1h-1zM90 759h1v1h-1zM78 761h1v1h-1z" fill="#000"/>
<path d="M186.50 678.50H76.00V762.60H186.50" fill="none" stroke="#000" stroke-width="1.7"/>
<line x1="186.50" y1="678.50" x2="186.50" y2="763.40" stroke="#555" stroke-width="1.1"/>
<line x1="76.00" y1="733.40" x2="185.10" y2="733.40" stroke="#000" stroke-width="1.5"/>
<line x1="184.30" y1="677.70" x2="184.30" y2="734.10" stroke="#000" stroke-width="1.7"/>
<path d="M76.30 763.60v5M84.51 763.60v2.4M89.31 763.60v2.4M92.72 763.60v2.4M95.36 763.60v2.4M97.52 763.60v2.4M99.35 763.60v2.4M100.93 763.60v2.4M102.33 763.60v2.4M103.58 763.60v5M111.79 763.60v2.4M116.59 763.60v2.4M120.00 763.60v2.4M122.64 763.60v2.4M124.80 763.60v2.4M126.63 763.60v2.4M128.21 763.60v2.4M129.60 763.60v2.4M130.85 763.60v5M139.06 763.60v2.4M143.86 763.60v2.4M147.27 763.60v2.4M149.91 763.60v2.4M152.07 763.60v2.4M153.90 763.60v2.4M155.48 763.60v2.4M156.88 763.60v2.4M158.12 763.60v5M166.34 763.60v2.4M171.14 763.60v2.4M174.55 763.60v2.4M177.19 763.60v2.4M179.35 763.60v2.4M181.18 763.60v2.4M182.76 763.60v2.4M184.15 763.60v2.4M185.40 763.60v5" stroke="#000" stroke-width="1" fill="none"/>
<path d="M75.00 762.40h-5M75.00 756.11h-2.4M75.00 752.43h-2.4M75.00 749.82h-2.4M75.00 747.79h-2.4M75.00 746.14h-2.4M75.00 744.74h-2.4M75.00 743.53h-2.4M75.00 742.46h-2.4M75.00 741.50h-5M75.00 735.21h-2.4M75.00 731.53h-2.4M75.00 728.92h-2.4M75.00 726.89h-2.4M75.00 725.24h-2.4M75.00 723.84h-2.4M75.00 722.63h-2.4M75.00 721.56h-2.4M75.00 720.60h-5M75.00 714.31h-2.4M75.00 710.63h-2.4M75.00 708.02h-2.4M75.00 705.99h-2.4M75.00 704.34h-2.4M75.00 702.94h-2.4M75.00 701.73h-2.4M75.00 700.66h-2.4M75.00 699.70h-5M75.00 693.41h-2.4M75.00 689.73h-2.4M75.00 687.12h-2.4M75.00 685.09h-2.4M75.00 683.44h-2.4M75.00 682.04h-2.4M75.00 680.83h-2.4M75.00 679.76h-2.4M75.00 678.80h-5" stroke="#000" stroke-width="1" fill="none"/>
<text transform="translate(68.36,779.50) scale(0.840,1)" font-family="Liberation Sans" font-weight="normal" font-size="11">10</text>
<text transform="translate(78.93,773.90) scale(0.840,1)" font-family="Liberation Sans" font-weight="normal" font-size="11">0</text>
<text transform="translate(95.64,779.50) scale(0.840,1)" font-family="Liberation Sans" font-weight="normal" font-size="11">10</text>
<text transform="translate(106.20,773.90) scale(0.840,1)" font-family="Liberation Sans" font-weight="normal" font-size="11">1</text>
<text transform="translate(122.91,779.50) scale(0.840,1)" font-family="Liberation Sans" font-weight="normal" font-size="11">10</text>
<text transform="translate(133.48,773.90) scale(0.840,1)" font-family="Liberation Sans" font-weight="normal" font-size="11">2</text>
<text transform="translate(150.19,779.50) scale(0.840,1)" font-family="Liberation Sans" font-weight="normal" font-size="11">10</text>
<text transform="translate(160.75,773.90) scale(0.840,1)" font-family="Liberation Sans" font-weight="normal" font-size="11">3</text>
<text transform="translate(177.46,779.50) scale(0.840,1)" font-family="Liberation Sans" font-weight="normal" font-size="11">10</text>
<text transform="translate(188.03,773.90) scale(0.840,1)" font-family="Liberation Sans" font-weight="normal" font-size="11">4</text>
<text transform="translate(131.00,789.80) scale(0.950,1)" font-family="Liberation Sans" font-weight="normal" font-size="10.5" text-anchor="middle">FL2-H</text>
<text transform="translate(66.60,769.80) rotate(-90) scale(0.840,1)" font-family="Liberation Sans" font-weight="normal" font-size="11">10</text>
<text transform="translate(61.00,758.60) rotate(-90) scale(0.840,1)" font-family="Liberation Sans" font-weight="normal" font-size="11">0</text>
<text transform="translate(66.60,748.90) rotate(-90) scale(0.840,1)" font-family="Liberation Sans" font-weight="normal" font-size="11">10</text>
<text transform="translate(61.00,737.70) rotate(-90) scale(0.840,1)" font-family="Liberation Sans" font-weight="normal" font-size="11">1</text>
<text transform="translate(66.60,728.00) rotate(-90) scale(0.840,1)" font-family="Liberation Sans" font-weight="normal" font-size="11">10</text>
<text transform="translate(61.00,716.80) rotate(-90) scale(0.840,1)" font-family="Liberation Sans" font-weight="normal" font-size="11">2</text>
<text transform="translate(66.60,707.10) rotate(-90) scale(0.840,1)" font-family="Liberation Sans" font-weight="normal" font-size="11">10</text>
<text transform="translate(61.00,695.90) rotate(-90) scale(0.840,1)" font-family="Liberation Sans" font-weight="normal" font-size="11">3</text>
<text transform="translate(66.60,686.20) rotate(-90) scale(0.840,1)" font-family="Liberation Sans" font-weight="normal" font-size="11">10</text>
<text transform="translate(61.00,675.00) rotate(-90) scale(0.840,1)" font-family="Liberation Sans" font-weight="normal" font-size="11">4</text>
<text transform="translate(52.50,720.55) rotate(-90) scale(0.980,1)" font-family="Liberation Sans" font-weight="normal" font-size="10.5" text-anchor="middle">FL1-H</text>
<text transform="translate(126.89,694.46) scale(1.008,1)" font-family="Liberation Serif" font-weight="bold" font-size="17.01" fill="#000">95.5%</text>
<text transform="translate(159.20,729.80) scale(1.010,1)" font-family="Liberation Serif" font-weight="normal" font-size="16.62" fill="#000">R4</text>
<polyline points="227.5,181.2 228.3,178.0 229.1,174.7 229.9,171.5 230.7,168.7 231.5,165.9 232.3,163.3 233.1,161.3 233.9,159.3 234.7,156.9 235.5,153.9 236.3,150.2 237.1,146.2 237.9,143.4 238.7,141.5 239.5,140.6 240.3,139.8 241.1,137.8 241.9,136.1 242.7,136.2 243.5,134.6 244.3,133.5 245.1,132.5 245.9,132.3 246.7,129.5 247.5,128.3 248.3,128.1 249.1,128.9 249.9,132.3 250.7,133.8 251.5,123.2 252.3,143.7 253.1,147.7 253.9,151.9 254.7,154.9 255.5,157.5 256.3,160.4 257.1,162.4 257.9,164.4 258.7,166.4 259.5,168.0 260.3,169.6 261.1,171.3 261.9,173.3 262.7,175.3 263.5,176.7 264.3,177.3 265.1,177.9 265.9,178.6 266.7,179.2 267.5,179.8 268.3,180.3 269.1,180.8 269.9,181.3 270.7,181.8 271.5,182.2 272.3,182.7 273.1,183.2 273.9,183.6 274.7,184.0 275.5,184.2 276.3,184.2 277.1,183.8 277.9,184.0 278.7,184.1 279.5,183.9 280.3,183.7 281.1,183.8 281.9,184.2 282.7,183.8 283.5,183.7 284.3,184.3 285.1,184.4 285.9,184.4 286.7,184.4 287.5,184.3 288.3,184.1 289.1,183.5 289.9,183.4 290.7,183.4 291.5,183.5 292.3,183.5 293.1,183.5 293.9,183.2 294.7,183.6 295.5,184.0 296.3,184.3 297.1,184.4 297.9,184.2 298.7,183.7 299.5,183.8 300.3,184.1 301.1,184.4 301.9,184.2 302.7,184.0 303.5,184.0 304.3,184.0 305.1,183.9 305.9,183.8 306.7,184.2 307.5,184.5 308.3,184.5 309.1,184.5 309.9,184.4 310.7,184.2 311.5,184.1 312.3,184.0 313.1,183.7 313.9,183.9 314.7,184.1 315.5,184.4 316.3,184.4 317.1,184.4 317.9,184.3 318.7,184.2 319.5,183.9 320.3,183.4 321.1,183.9 321.9,184.3 322.7,184.2 323.5,184.3 324.3,184.2 325.1,183.9 325.9,183.6 326.7,183.6 327.5,183.7 328.3,183.9 329.1,184.1 329.9,184.4 330.7,184.1 331.5,183.8 332.3,183.7 333.1,183.9 333.9,184.1 334.7,184.3 335.5,183.6 336.3,183.3 337.1,183.7 337.9,184.0 338.7,184.4" fill="none" stroke="#000" stroke-width="1.3" stroke-linejoin="miter" stroke-dasharray="1.1 0.9"/>
<path d="M251 124h2v1h-2zM251 126h2v1h-2zM248 128h2v1h-2zM251 128h2v1h-2zM248 130h2v1h-2zM251 130h2v1h-2zM242 132h2v1h-2zM248 132h2v1h-2zM251 132h2v1h-2zM242 134h2v1h-2zM251 134h2v1h-2zM242 136h2v1h-2zM251 136h2v1h-2zM251 138h2v1h-2zM251 140h2v1h-2zM251 142h2v1h-2zM251 144h2v1h-2zM251 146h2v1h-2zM251 148h2v1h-2zM251 150h2v1h-2z" fill="#000"/>
<polyline points="228.0,182.9 228.9,181.6 229.8,180.4 230.7,179.1 231.6,179.2 232.5,179.8 233.4,180.4 234.3,179.9 235.2,178.6 236.1,177.3 237.0,176.2 237.9,175.3 238.8,174.4 239.7,176.2 240.6,176.1 241.5,172.4 242.4,170.2 243.3,169.1 244.2,168.0 245.1,166.3 246.0,163.2 246.9,160.4 247.8,158.0 248.7,159.2 249.6,163.3 250.5,163.0 251.4,162.8 252.3,163.5 253.2,164.7 254.1,158.9 255.0,154.4 255.9,153.9 256.8,152.7 257.7,150.4 258.6,148.7 259.5,150.7 260.4,151.3 261.3,149.4 262.2,147.5 263.1,146.3 264.0,145.4 264.9,142.1 265.8,135.8 266.7,135.3 267.6,137.1 268.5,138.2 269.4,136.1 270.3,133.4 271.2,135.0 272.1,135.6 273.0,137.0 273.9,136.8 274.8,134.5 275.7,135.9 276.6,137.9 277.5,144.8 278.4,150.4 279.3,156.4 280.2,160.1 281.1,163.8 282.0,166.8 282.9,168.6 283.8,170.9 284.7,173.9 285.6,175.8 286.5,177.4 287.4,178.9 288.3,179.5 289.2,180.1 290.1,180.7 291.0,181.3 291.9,183.0 292.8,183.2 293.7,182.3 294.6,182.1 295.5,182.1 296.4,183.0 297.3,184.0 298.2,183.3 299.1,183.2 300.0,183.1 300.9,183.1 301.8,183.8 302.7,183.4 303.6,183.3 304.5,183.5 305.4,183.4 306.3,182.6 307.2,182.2 308.1,182.3 309.0,182.3 309.9,182.8 310.8,182.4 311.7,181.8 312.6,182.7 313.5,182.9 314.4,182.8 315.3,182.8 316.2,183.4 317.1,183.8 318.0,183.6 318.9,183.4 319.8,184.1 320.7,184.1 321.6,183.7 322.5,183.3 323.4,184.0 324.3,182.9 325.2,182.7 326.1,183.3 327.0,183.6 327.9,183.6 328.8,183.4 329.7,183.1 330.6,182.8 331.5,182.9 332.4,183.2 333.3,183.7 334.2,184.0 335.1,183.8 336.0,183.6 336.9,183.5 337.8,183.9 338.7,184.1" fill="none" stroke="#000" stroke-width="1.3" stroke-linejoin="miter"/>
<rect x="226.00" y="100.40" width="114.00" height="85.10" fill="none" stroke="#222" stroke-width="1.4"/>
<path d="M226.70 186.20v5M235.14 186.20v2.4M240.08 186.20v2.4M243.59 186.20v2.4M246.31 186.20v2.4M248.53 186.20v2.4M250.41 186.20v2.4M252.03 186.20v2.4M253.47 186.20v2.4M254.75 186.20v5M263.19 186.20v2.4M268.13 186.20v2.4M271.64 186.20v2.4M274.36 186.20v2.4M276.58 186.20v2.4M278.46 186.20v2.4M280.08 186.20v2.4M281.52 186.20v2.4M282.80 186.20v5M291.24 186.20v2.4M296.18 186.20v2.4M299.69 186.20v2.4M302.41 186.20v2.4M304.63 186.20v2.4M306.51 186.20v2.4M308.13 186.20v2.4M309.57 186.20v2.4M310.85 186.20v5M319.29 186.20v2.4M324.23 186.20v2.4M327.74 186.20v2.4M330.46 186.20v2.4M332.68 186.20v2.4M334.56 186.20v2.4M336.18 186.20v2.4M337.62 186.20v2.4M338.90 186.20v5" stroke="#000" stroke-width="1" fill="none"/>
<path d="M225.30 184.10h-4.5M225.30 181.32h-2.4M225.30 178.55h-2.4M225.30 175.77h-2.4M225.30 172.99h-2.4M225.30 170.22h-4.5M225.30 167.44h-2.4M225.30 164.66h-2.4M225.30 161.89h-2.4M225.30 159.11h-2.4M225.30 156.33h-4.5M225.30 153.56h-2.4M225.30 150.78h-2.4M225.30 148.00h-2.4M225.30 145.23h-2.4M225.30 142.45h-4.5M225.30 139.67h-2.4M225.30 136.90h-2.4M225.30 134.12h-2.4M225.30 131.34h-2.4M225.30 128.57h-4.5M225.30 125.79h-2.4M225.30 123.01h-2.4M225.30 120.24h-2.4M225.30 117.46h-2.4M225.30 114.68h-4.5M225.30 111.91h-2.4M225.30 109.13h-2.4M225.30 106.35h-2.4M225.30 103.58h-2.4M225.30 100.80h-4.5" stroke="#000" stroke-width="1" fill="none"/>
<text transform="translate(218.76,202.40) scale(0.840,1)" font-family="Liberation Sans" font-weight="normal" font-size="11">10</text>
<text transform="translate(229.33,196.80) scale(0.840,1)" font-family="Liberation Sans" font-weight="normal" font-size="11">0</text>
<text transform="translate(246.81,202.40) scale(0.840,1)" font-family="Liberation Sans" font-weight="normal" font-size="11">10</text>
<text transform="translate(257.38,196.80) scale(0.840,1)" font-family="Liberation Sans" font-weight="normal" font-size="11">1</text>
<text transform="translate(274.86,202.40) scale(0.840,1)" font-family="Liberation Sans" font-weight="normal" font-size="11">10</text>
<text transform="translate(285.43,196.80) scale(0.840,1)" font-family="Liberation Sans" font-weight="normal" font-size="11">2</text>
<text transform="translate(302.91,202.40) scale(0.840,1)" font-family="Liberation Sans" font-weight="normal" font-size="11">10</text>
<text transform="translate(313.48,196.80) scale(0.840,1)" font-family="Liberation Sans" font-weight="normal" font-size="11">3</text>
<text transform="translate(330.96,202.40) scale(0.840,1)" font-family="Liberation Sans" font-weight="normal" font-size="11">10</text>
<text transform="translate(341.53,196.80) scale(0.840,1)" font-family="Liberation Sans" font-weight="normal" font-size="11">4</text>
<text transform="translate(281.50,212.70) scale(0.950,1)" font-family="Liberation Sans" font-weight="normal" font-size="10.5" text-anchor="middle">FL2-H</text>
<text transform="translate(217.80,184.60) rotate(-90) scale(0.900,1)" font-family="Liberation Sans" font-weight="normal" font-size="10.5" text-anchor="middle">0</text>
<text transform="translate(217.80,101.30) rotate(-90) scale(0.900,1)" font-family="Liberation Sans" font-weight="normal" font-size="10.5" text-anchor="middle">30</text>
<text transform="translate(206.80,144.05) rotate(-90) scale(0.980,1)" font-family="Liberation Sans" font-weight="normal" font-size="10.5" text-anchor="middle">Counts</text>
<text transform="translate(312.99,123.70) scale(1.107,1)" font-family="Liberation Serif" font-weight="normal" font-size="15.30" fill="#000">R1</text>
<line x1="253.40" y1="174.00" x2="338.00" y2="174.00" stroke="#000" stroke-width="1.4"/>
<line x1="253.40" y1="174.00" x2="253.40" y2="184.50" stroke="#000" stroke-width="1.4"/>
<line x1="338.60" y1="162.30" x2="338.60" y2="185.00" stroke="#000" stroke-width="1.8"/>
<text transform="translate(288.08,165.65) scale(0.986,1)" font-family="Liberation Serif" font-weight="bold" font-size="17.46" fill="#000">82.7%</text>
<polyline points="392.0,174.6 392.8,172.6 393.6,170.5 394.4,168.5 395.2,166.5 396.0,164.5 396.8,161.7 397.6,158.8 398.4,156.0 399.2,153.0 400.0,150.3 400.8,147.9 401.6,144.2 402.4,141.7 403.2,138.9 404.0,136.8 404.8,135.5 405.6,132.0 406.4,130.0 407.2,129.4 408.0,126.1 408.8,125.0 409.6,124.2 410.4,123.4 411.2,120.5 412.0,119.3 412.8,118.4 413.6,120.8 414.4,122.2 415.2,123.2 416.0,120.2 416.8,110.0 417.6,123.1 418.4,137.6 419.2,153.9 420.0,156.6 420.8,159.3 421.6,162.2 422.4,164.2 423.2,166.2 424.0,168.3 424.8,170.7 425.6,173.1 426.4,175.9 427.2,179.2 428.0,180.4 428.8,181.6 429.6,182.8 430.4,183.4 431.2,184.0 432.0,184.6 432.8,185.2 433.6,185.8 434.4,186.2 435.2,186.3 436.0,186.4 436.8,186.5 437.6,186.6 438.4,186.7 439.2,187.0 440.0,187.6 440.8,187.7 441.6,187.7 442.4,187.7 443.2,187.5 444.0,187.3 444.8,187.0 445.6,186.9 446.4,186.7 447.2,186.5 448.0,187.0 448.8,187.0 449.6,186.5 450.4,186.4 451.2,186.7 452.0,187.4 452.8,187.3 453.6,187.4 454.4,187.5 455.2,187.6 456.0,187.5 456.8,187.3 457.6,186.9 458.4,187.0 459.2,187.7 460.0,187.7 460.8,187.2 461.6,186.3 462.4,186.7 463.2,186.8 464.0,186.7 464.8,187.0 465.6,187.3 466.4,187.6 467.2,187.7 468.0,187.7 468.8,187.6 469.6,187.4 470.4,187.4 471.2,187.6 472.0,187.6 472.8,187.6 473.6,187.5 474.4,187.7 475.2,187.5 476.0,186.7 476.8,187.4 477.6,187.4 478.4,186.7 479.2,187.2 480.0,187.4 480.8,187.3 481.6,187.5 482.4,187.6 483.2,187.8 484.0,187.7 484.8,187.7 485.6,187.8 486.4,187.3 487.2,187.2 488.0,187.4 488.8,187.5 489.6,187.6 490.4,187.7 491.2,187.6 492.0,187.0 492.8,185.9 493.6,186.5 494.4,187.2 495.2,187.9 496.0,186.8 496.8,186.7 497.6,187.5 498.4,187.5 499.2,187.4 500.0,187.5 500.8,187.8 501.6,187.6 502.4,187.1" fill="none" stroke="#000" stroke-width="1.3" stroke-linejoin="miter" stroke-dasharray="1.1 0.9"/>
<path d="M416 110h2v1h-2zM416 112h2v1h-2zM416 114h2v1h-2zM416 116h2v1h-2zM416 118h2v1h-2zM413 120h2v1h-2zM416 120h2v1h-2zM413 122h2v1h-2zM416 122h2v1h-2zM416 124h2v1h-2zM416 126h2v1h-2zM416 128h2v1h-2zM416 130h2v1h-2zM416 132h2v1h-2zM416 134h2v1h-2zM416 136h2v1h-2zM416 138h2v1h-2zM416 140h2v1h-2zM416 142h2v1h-2zM416 144h2v1h-2z" fill="#000"/>
<polyline points="392.0,179.2 392.9,177.8 393.8,176.3 394.7,174.9 395.6,174.1 396.5,173.5 397.4,173.0 398.3,172.4 399.2,170.3 400.1,168.0 401.0,165.7 401.9,163.2 402.8,160.7 403.7,158.3 404.6,157.1 405.5,155.4 406.4,151.0 407.3,147.1 408.2,143.8 409.1,140.3 410.0,136.6 410.9,133.1 411.8,130.1 412.7,126.3 413.6,128.8 414.5,129.7 415.4,131.2 416.3,131.8 417.2,132.5 418.1,130.7 419.0,136.9 419.9,143.7 420.8,148.0 421.7,147.7 422.6,151.4 423.5,156.9 424.4,158.3 425.3,157.7 426.2,158.0 427.1,162.8 428.0,167.8 428.9,169.6 429.8,168.9 430.7,168.2 431.6,168.6 432.5,171.3 433.4,174.0 434.3,176.4 435.2,178.6 436.1,179.3 437.0,174.4 437.9,172.4 438.8,176.1 439.7,178.6 440.6,179.8 441.5,180.0 442.4,179.1 443.3,178.2 444.2,180.1 445.1,182.3 446.0,183.0 446.9,180.6 447.8,179.9 448.7,181.6 449.6,183.3 450.5,183.6 451.4,182.8 452.3,182.1 453.2,181.8 454.1,183.0 455.0,184.2 455.9,185.4 456.8,185.8 457.7,186.1 458.6,186.2 459.5,186.1 460.4,186.7 461.3,186.5 462.2,185.9 463.1,185.8 464.0,186.3 464.9,186.4 465.8,186.4 466.7,187.2 467.6,187.0 468.5,187.0 469.4,187.0 470.3,186.3 471.2,185.5 472.1,185.7 473.0,186.5 473.9,185.9 474.8,186.7 475.7,186.9 476.6,186.5 477.5,185.7 478.4,186.1 479.3,186.7 480.2,187.3 481.1,187.5 482.0,186.6 482.9,186.4 483.8,186.9 484.7,187.5 485.6,187.1 486.5,186.9 487.4,186.5 488.3,185.4 489.2,186.8 490.1,187.1 491.0,186.6 491.9,186.6 492.8,185.8 493.7,186.1 494.6,186.9 495.5,186.3 496.4,186.1 497.3,185.5 498.2,185.1 499.1,186.0 500.0,187.0 500.9,187.0 501.8,186.5 502.7,187.0" fill="none" stroke="#000" stroke-width="1.3" stroke-linejoin="miter"/>
<rect x="390.00" y="103.00" width="113.80" height="86.00" fill="none" stroke="#222" stroke-width="1.4"/>
<path d="M390.70 189.70v5M399.13 189.70v2.4M404.06 189.70v2.4M407.56 189.70v2.4M410.27 189.70v2.4M412.49 189.70v2.4M414.36 189.70v2.4M415.99 189.70v2.4M417.42 189.70v2.4M418.70 189.70v5M427.13 189.70v2.4M432.06 189.70v2.4M435.56 189.70v2.4M438.27 189.70v2.4M440.49 189.70v2.4M442.36 189.70v2.4M443.99 189.70v2.4M445.42 189.70v2.4M446.70 189.70v5M455.13 189.70v2.4M460.06 189.70v2.4M463.56 189.70v2.4M466.27 189.70v2.4M468.49 189.70v2.4M470.36 189.70v2.4M471.99 189.70v2.4M473.42 189.70v2.4M474.70 189.70v5M483.13 189.70v2.4M488.06 189.70v2.4M491.56 189.70v2.4M494.27 189.70v2.4M496.49 189.70v2.4M498.36 189.70v2.4M499.99 189.70v2.4M501.42 189.70v2.4M502.70 189.70v5" stroke="#000" stroke-width="1" fill="none"/>
<path d="M389.30 187.60h-4.5M389.30 184.23h-2.4M389.30 180.86h-2.4M389.30 177.50h-2.4M389.30 174.13h-2.4M389.30 170.76h-4.5M389.30 167.39h-2.4M389.30 164.02h-2.4M389.30 160.66h-2.4M389.30 157.29h-2.4M389.30 153.92h-4.5M389.30 150.55h-2.4M389.30 147.18h-2.4M389.30 143.82h-2.4M389.30 140.45h-2.4M389.30 137.08h-4.5M389.30 133.71h-2.4M389.30 130.34h-2.4M389.30 126.98h-2.4M389.30 123.61h-2.4M389.30 120.24h-4.5M389.30 116.87h-2.4M389.30 113.50h-2.4M389.30 110.14h-2.4M389.30 106.77h-2.4M389.30 103.40h-4.5" stroke="#000" stroke-width="1" fill="none"/>
<text transform="translate(382.76,205.90) scale(0.840,1)" font-family="Liberation Sans" font-weight="normal" font-size="11">10</text>
<text transform="translate(393.33,200.30) scale(0.840,1)" font-family="Liberation Sans" font-weight="normal" font-size="11">0</text>
<text transform="translate(410.76,205.90) scale(0.840,1)" font-family="Liberation Sans" font-weight="normal" font-size="11">10</text>
<text transform="translate(421.33,200.30) scale(0.840,1)" font-family="Liberation Sans" font-weight="normal" font-size="11">1</text>
<text transform="translate(438.76,205.90) scale(0.840,1)" font-family="Liberation Sans" font-weight="normal" font-size="11">10</text>
<text transform="translate(449.33,200.30) scale(0.840,1)" font-family="Liberation Sans" font-weight="normal" font-size="11">2</text>
<text transform="translate(466.76,205.90) scale(0.840,1)" font-family="Liberation Sans" font-weight="normal" font-size="11">10</text>
<text transform="translate(477.33,200.30) scale(0.840,1)" font-family="Liberation Sans" font-weight="normal" font-size="11">3</text>
<text transform="translate(494.76,205.90) scale(0.840,1)" font-family="Liberation Sans" font-weight="normal" font-size="11">10</text>
<text transform="translate(505.33,200.30) scale(0.840,1)" font-family="Liberation Sans" font-weight="normal" font-size="11">4</text>
<text transform="translate(445.40,216.20) scale(0.950,1)" font-family="Liberation Sans" font-weight="normal" font-size="10.5" text-anchor="middle">FL2-H</text>
<text transform="translate(381.80,188.10) rotate(-90) scale(0.900,1)" font-family="Liberation Sans" font-weight="normal" font-size="10.5" text-anchor="middle">0</text>
<text transform="translate(381.80,171.26) rotate(-90) scale(0.900,1)" font-family="Liberation Sans" font-weight="normal" font-size="10.5" text-anchor="middle">5</text>
<text transform="translate(381.80,154.42) rotate(-90) scale(0.900,1)" font-family="Liberation Sans" font-weight="normal" font-size="10.5" text-anchor="middle">10</text>
<text transform="translate(381.80,137.58) rotate(-90) scale(0.900,1)" font-family="Liberation Sans" font-weight="normal" font-size="10.5" text-anchor="middle">15</text>
<text transform="translate(381.80,120.74) rotate(-90) scale(0.900,1)" font-family="Liberation Sans" font-weight="normal" font-size="10.5" text-anchor="middle">20</text>
<text transform="translate(381.80,103.90) rotate(-90) scale(0.900,1)" font-family="Liberation Sans" font-weight="normal" font-size="10.5" text-anchor="middle">25</text>
<text transform="translate(370.80,147.10) rotate(-90) scale(0.980,1)" font-family="Liberation Sans" font-weight="normal" font-size="10.5" text-anchor="middle">Counts</text>
<text transform="translate(469.94,126.70) scale(0.858,1)" font-family="Liberation Serif" font-weight="normal" font-size="18.03" fill="#000">R1</text>
<polyline points="229.4,363.4 230.2,360.2 231.0,357.0 231.8,353.8 232.6,350.6 233.4,347.4 234.2,343.7 235.0,336.1 235.8,332.4 236.6,332.3 237.4,333.2 238.2,333.6 239.0,331.3 239.8,328.8 240.6,327.8 241.4,326.0 242.2,324.9 243.0,323.6 243.8,322.0 244.6,319.6 245.4,315.5 246.2,313.5 247.0,310.6 247.8,312.2 248.6,310.9 249.4,313.2 250.2,312.8 251.0,313.1 251.8,311.0 252.6,311.8 253.4,305.9 254.2,295.3 255.0,290.6 255.8,302.8 256.6,309.6 257.4,308.1 258.2,305.8 259.0,300.3 259.8,294.2 260.6,291.0 261.4,297.2 262.2,302.4 263.0,300.6 263.8,300.7 264.6,300.1 265.4,303.1 266.2,311.0 267.0,313.4 267.8,315.8 268.6,316.9 269.4,318.6 270.2,320.6 271.0,323.0 271.8,323.5 272.6,326.1 273.4,329.0 274.2,332.6 275.0,336.1 275.8,340.0 276.6,343.6 277.4,346.0 278.2,348.3 279.0,350.7 279.8,352.4 280.6,353.9 281.4,355.4 282.2,356.9 283.0,358.0 283.8,358.8 284.6,359.6 285.4,360.4 286.2,361.2 287.0,361.5 287.8,361.7 288.6,362.0 289.4,362.2 290.2,362.4 291.0,362.7 291.8,362.9 292.6,363.3 293.4,365.0 294.2,365.6 295.0,365.6 295.8,365.5 296.6,365.6 297.4,365.7 298.2,365.1 299.0,365.3 299.8,365.8 300.6,365.1 301.4,365.0 302.2,365.3 303.0,365.7 303.8,364.9 304.6,363.8 305.4,364.7 306.2,364.9 307.0,364.7 307.8,365.3 308.6,365.1 309.4,364.4 310.2,364.3 311.0,364.5 311.8,365.0 312.6,365.3 313.4,365.6 314.2,365.9 315.0,365.5 315.8,365.0 316.6,364.4 317.4,364.9 318.2,365.1 319.0,365.2 319.8,365.5 320.6,365.7 321.4,365.7 322.2,364.8 323.0,364.6 323.8,365.0 324.6,365.0 325.4,365.3 326.2,365.6 327.0,365.2 327.8,365.0 328.6,364.9 329.4,365.4 330.2,365.6 331.0,365.6 331.8,364.9 332.6,364.7 333.4,364.9 334.2,364.6 335.0,365.0 335.8,365.7 336.6,365.5 337.4,365.3 338.2,365.2 339.0,365.6 339.8,365.7 340.6,365.5 341.4,365.7" fill="none" stroke="#000" stroke-width="1.3" stroke-linejoin="miter" stroke-dasharray="1.1 0.9"/>
<path d="M253 292h2v1h-2zM259 292h2v1h-2zM253 294h2v1h-2zM259 294h2v1h-2zM253 296h2v1h-2zM259 296h2v1h-2zM253 298h2v1h-2zM259 298h2v1h-2zM253 300h2v1h-2zM256 300h2v1h-2zM259 300h2v1h-2zM253 302h2v1h-2zM256 302h2v1h-2zM253 304h2v1h-2zM256 304h2v1h-2zM253 306h2v1h-2zM256 306h2v1h-2zM256 308h2v1h-2zM250 310h2v1h-2zM250 312h2v1h-2zM235 332h2v1h-2zM235 334h2v1h-2z" fill="#000"/>
<polyline points="229.4,366.1 230.3,364.8 231.2,363.4 232.1,362.1 233.0,361.7 233.9,361.3 234.8,361.0 235.7,360.6 236.6,360.2 237.5,360.1 238.4,360.1 239.3,360.1 240.2,360.1 241.1,360.1 242.0,360.1 242.9,360.0 243.8,358.7 244.7,357.5 245.6,356.2 246.5,354.8 247.4,352.9 248.3,351.2 249.2,350.3 250.1,349.4 251.0,348.8 251.9,350.7 252.8,352.5 253.7,351.9 254.6,351.0 255.5,351.6 256.4,353.1 257.3,352.1 258.2,346.6 259.1,341.0 260.0,338.9 260.9,341.2 261.8,342.9 262.7,339.8 263.6,336.6 264.5,333.2 265.4,329.9 266.3,326.0 267.2,324.3 268.1,323.0 269.0,321.4 269.9,319.2 270.8,318.3 271.7,316.6 272.6,308.9 273.5,298.5 274.4,289.8 275.3,285.0 276.2,296.2 277.1,292.1 278.0,282.4 278.9,284.9 279.8,289.1 280.7,291.3 281.6,299.1 282.5,308.3 283.4,302.9 284.3,298.6 285.2,291.1 286.1,295.8 287.0,306.6 287.9,313.4 288.8,317.2 289.7,318.4 290.6,315.4 291.5,316.7 292.4,332.2 293.3,333.4 294.2,333.0 295.1,333.0 296.0,336.2 296.9,340.4 297.8,344.8 298.7,347.1 299.6,348.3 300.5,349.5 301.4,350.6 302.3,352.3 303.2,354.5 304.1,356.8 305.0,358.3 305.9,359.5 306.8,360.3 307.7,360.7 308.6,361.2 309.5,359.9 310.4,358.1 311.3,356.3 312.2,358.5 313.1,360.8 314.0,362.6 314.9,362.9 315.8,363.2 316.7,363.5 317.6,363.9 318.5,364.7 319.4,365.2 320.3,365.4 321.2,365.3 322.1,363.3 323.0,364.1 323.9,364.4 324.8,363.2 325.7,364.3 326.6,364.7 327.5,364.8 328.4,364.6 329.3,364.6 330.2,365.0 331.1,365.1 332.0,365.0 332.9,365.2 333.8,364.4 334.7,364.2 335.6,364.9 336.5,365.3 337.4,365.0 338.3,364.8 339.2,365.0 340.1,365.2 341.0,365.3" fill="none" stroke="#000" stroke-width="1.3" stroke-linejoin="miter"/>
<rect x="228.80" y="281.40" width="113.90" height="85.50" fill="none" stroke="#222" stroke-width="1.4"/>
<path d="M229.50 367.60v5M237.94 367.60v2.4M242.87 367.60v2.4M246.37 367.60v2.4M249.09 367.60v2.4M251.31 367.60v2.4M253.18 367.60v2.4M254.81 367.60v2.4M256.24 367.60v2.4M257.52 367.60v5M265.96 367.60v2.4M270.90 367.60v2.4M274.40 367.60v2.4M277.11 367.60v2.4M279.33 367.60v2.4M281.21 367.60v2.4M282.83 367.60v2.4M284.27 367.60v2.4M285.55 367.60v5M293.99 367.60v2.4M298.92 367.60v2.4M302.42 367.60v2.4M305.14 367.60v2.4M307.36 367.60v2.4M309.23 367.60v2.4M310.86 367.60v2.4M312.29 367.60v2.4M313.57 367.60v5M322.01 367.60v2.4M326.95 367.60v2.4M330.45 367.60v2.4M333.16 367.60v2.4M335.38 367.60v2.4M337.26 367.60v2.4M338.88 367.60v2.4M340.32 367.60v2.4M341.60 367.60v5" stroke="#000" stroke-width="1" fill="none"/>
<path d="M228.10 365.50h-4.5M228.10 362.71h-2.4M228.10 359.92h-2.4M228.10 357.13h-2.4M228.10 354.34h-2.4M228.10 351.55h-4.5M228.10 348.76h-2.4M228.10 345.97h-2.4M228.10 343.18h-2.4M228.10 340.39h-2.4M228.10 337.60h-4.5M228.10 334.81h-2.4M228.10 332.02h-2.4M228.10 329.23h-2.4M228.10 326.44h-2.4M228.10 323.65h-4.5M228.10 320.86h-2.4M228.10 318.07h-2.4M228.10 315.28h-2.4M228.10 312.49h-2.4M228.10 309.70h-4.5M228.10 306.91h-2.4M228.10 304.12h-2.4M228.10 301.33h-2.4M228.10 298.54h-2.4M228.10 295.75h-4.5M228.10 292.96h-2.4M228.10 290.17h-2.4M228.10 287.38h-2.4M228.10 284.59h-2.4M228.10 281.80h-4.5" stroke="#000" stroke-width="1" fill="none"/>
<text transform="translate(221.56,383.80) scale(0.840,1)" font-family="Liberation Sans" font-weight="normal" font-size="11">10</text>
<text transform="translate(232.13,378.20) scale(0.840,1)" font-family="Liberation Sans" font-weight="normal" font-size="11">0</text>
<text transform="translate(249.58,383.80) scale(0.840,1)" font-family="Liberation Sans" font-weight="normal" font-size="11">10</text>
<text transform="translate(260.15,378.20) scale(0.840,1)" font-family="Liberation Sans" font-weight="normal" font-size="11">1</text>
<text transform="translate(277.61,383.80) scale(0.840,1)" font-family="Liberation Sans" font-weight="normal" font-size="11">10</text>
<text transform="translate(288.18,378.20) scale(0.840,1)" font-family="Liberation Sans" font-weight="normal" font-size="11">2</text>
<text transform="translate(305.63,383.80) scale(0.840,1)" font-family="Liberation Sans" font-weight="normal" font-size="11">10</text>
<text transform="translate(316.20,378.20) scale(0.840,1)" font-family="Liberation Sans" font-weight="normal" font-size="11">3</text>
<text transform="translate(333.66,383.80) scale(0.840,1)" font-family="Liberation Sans" font-weight="normal" font-size="11">10</text>
<text transform="translate(344.23,378.20) scale(0.840,1)" font-family="Liberation Sans" font-weight="normal" font-size="11">4</text>
<text transform="translate(284.25,394.10) scale(0.950,1)" font-family="Liberation Sans" font-weight="normal" font-size="10.5" text-anchor="middle">FL2-H</text>
<text transform="translate(220.60,366.00) rotate(-90) scale(0.900,1)" font-family="Liberation Sans" font-weight="normal" font-size="10.5" text-anchor="middle">0</text>
<text transform="translate(220.60,282.30) rotate(-90) scale(0.900,1)" font-family="Liberation Sans" font-weight="normal" font-size="10.5" text-anchor="middle">30</text>
<text transform="translate(209.60,325.25) rotate(-90) scale(0.980,1)" font-family="Liberation Sans" font-weight="normal" font-size="10.5" text-anchor="middle">Counts</text>
<text transform="translate(315.81,305.60) scale(0.951,1)" font-family="Liberation Serif" font-weight="normal" font-size="17.23" fill="#000">R2</text>
<polyline points="384.7,358.1 385.5,357.0 386.3,355.9 387.1,354.4 387.9,352.4 388.7,350.4 389.5,346.9 390.3,336.5 391.1,337.3 391.9,337.7 392.7,335.7 393.5,332.0 394.3,331.6 395.1,330.7 395.9,331.1 396.7,329.6 397.5,327.9 398.3,324.9 399.1,322.3 399.9,317.5 400.7,314.5 401.5,313.1 402.3,315.5 403.1,314.0 403.9,315.8 404.7,315.2 405.5,316.1 406.3,315.3 407.1,315.8 407.9,314.1 408.7,312.0 409.5,306.6 410.3,296.0 411.1,291.2 411.9,297.7 412.7,304.6 413.5,310.5 414.3,319.4 415.1,307.3 415.9,296.6 416.7,293.6 417.5,300.1 418.3,306.6 419.1,308.8 419.9,302.0 420.7,304.7 421.5,303.6 422.3,303.2 423.1,311.8 423.9,320.9 424.7,322.6 425.5,322.5 426.3,323.5 427.1,324.4 427.9,326.2 428.7,328.4 429.5,328.8 430.3,331.9 431.1,333.7 431.9,337.2 432.7,340.4 433.5,345.3 434.3,350.1 435.1,352.8 435.9,354.8 436.7,356.8 437.5,358.6 438.3,359.8 439.1,361.1 439.9,362.3 440.7,363.5 441.5,364.0 442.3,364.5 443.1,365.1 443.9,365.6 444.7,366.1 445.5,366.4 446.3,366.7 447.1,367.0 447.9,367.3 448.7,367.5 449.5,367.6 450.3,367.7 451.1,367.9 451.9,368.0 452.7,368.1 453.5,368.2 454.3,369.2 455.1,369.9 455.9,370.2 456.7,370.7 457.5,370.6 458.3,370.0 459.1,370.4 459.9,370.2 460.7,369.4 461.5,369.8 462.3,370.3 463.1,370.9 463.9,370.0 464.7,369.9 465.5,370.6 466.3,370.2 467.1,370.2 467.9,370.4 468.7,370.6 469.5,370.7 470.3,370.8 471.1,370.4 471.9,370.3 472.7,370.6 473.5,370.8 474.3,370.5 475.1,369.8 475.9,370.2 476.7,370.6 477.5,371.1 478.3,370.4 479.1,370.3 479.9,370.9 480.7,370.6 481.5,370.3 482.3,370.1 483.1,370.0 483.9,369.7 484.7,369.1 485.5,370.1 486.3,370.4 487.1,369.8 487.9,370.3 488.7,370.7 489.5,370.9 490.3,371.0 491.1,370.5 491.9,369.4 492.7,369.1 493.5,369.7 494.3,371.0 495.1,370.8 495.9,370.4 496.7,369.9 497.5,370.5 498.3,370.7 499.1,370.5 499.9,370.4 500.7,370.2 501.5,370.1" fill="none" stroke="#000" stroke-width="1.3" stroke-linejoin="miter" stroke-dasharray="1.1 0.9"/>
<path d="M414 294h2v1h-2zM414 296h2v1h-2zM414 298h2v1h-2zM417 298h2v1h-2zM414 300h2v1h-2zM417 300h2v1h-2zM414 302h2v1h-2zM417 302h2v1h-2zM414 304h2v1h-2zM417 304h2v1h-2zM420 304h2v1h-2zM414 306h2v1h-2zM417 306h2v1h-2zM420 306h2v1h-2zM414 308h2v1h-2zM417 308h2v1h-2zM420 308h2v1h-2zM414 310h2v1h-2zM420 310h2v1h-2zM414 312h2v1h-2zM423 312h2v1h-2zM399 314h2v1h-2zM414 314h2v1h-2zM423 314h2v1h-2zM399 316h2v1h-2zM414 316h2v1h-2zM423 316h2v1h-2zM399 318h2v1h-2zM414 318h2v1h-2zM423 318h2v1h-2zM399 320h2v1h-2zM423 320h2v1h-2zM423 322h2v1h-2zM390 334h2v1h-2zM390 336h2v1h-2z" fill="#000"/>
<polyline points="384.0,360.8 384.9,362.5 385.8,364.2 386.7,364.3 387.6,363.6 388.5,362.8 389.4,362.1 390.3,361.2 391.2,360.3 392.1,359.5 393.0,358.6 393.9,357.7 394.8,356.8 395.7,355.8 396.6,354.9 397.5,354.0 398.4,352.2 399.3,350.5 400.2,348.7 401.1,346.8 402.0,344.8 402.9,342.7 403.8,341.9 404.7,345.3 405.6,348.6 406.5,350.4 407.4,352.3 408.3,344.7 409.2,338.6 410.1,340.9 411.0,343.3 411.9,337.5 412.8,331.0 413.7,326.5 414.6,331.6 415.5,336.9 416.4,334.6 417.3,330.4 418.2,325.4 419.1,321.1 420.0,319.3 420.9,318.4 421.8,320.3 422.7,321.1 423.6,317.7 424.5,313.3 425.4,311.8 426.3,308.8 427.2,317.9 428.1,322.5 429.0,317.9 429.9,311.5 430.8,308.9 431.7,306.6 432.6,310.7 433.5,318.3 434.4,317.5 435.3,313.2 436.2,314.7 437.1,324.8 438.0,322.7 438.9,317.0 439.8,318.6 440.7,322.8 441.6,326.7 442.5,325.0 443.4,319.8 444.3,322.6 445.2,331.4 446.1,334.9 447.0,336.2 447.9,337.2 448.8,338.2 449.7,338.6 450.6,339.3 451.5,341.5 452.4,344.5 453.3,342.8 454.2,338.6 455.1,343.7 456.0,348.8 456.9,347.1 457.8,346.2 458.7,351.1 459.6,355.5 460.5,356.6 461.4,357.6 462.3,358.7 463.2,359.9 464.1,361.4 465.0,362.8 465.9,364.3 466.8,363.7 467.7,361.9 468.6,361.6 469.5,364.0 470.4,366.1 471.3,366.4 472.2,366.7 473.1,366.9 474.0,367.2 474.9,367.5 475.8,368.6 476.7,369.7 477.6,370.2 478.5,369.5 479.4,370.2 480.3,370.5 481.2,370.4 482.1,370.5 483.0,370.2 483.9,369.7 484.8,369.3 485.7,369.6 486.6,369.5 487.5,369.9 488.4,370.4 489.3,369.8 490.2,369.9 491.1,370.0 492.0,369.8 492.9,368.8 493.8,369.8 494.7,370.1 495.6,369.8 496.5,370.7 497.4,370.1 498.3,370.0 499.2,370.1 500.1,369.3 501.0,369.9" fill="none" stroke="#000" stroke-width="1.3" stroke-linejoin="miter"/>
<rect x="383.70" y="282.70" width="119.00" height="89.40" fill="none" stroke="#222" stroke-width="1.4"/>
<path d="M384.40 372.80v5M393.22 372.80v2.4M398.38 372.80v2.4M402.04 372.80v2.4M404.88 372.80v2.4M407.20 372.80v2.4M409.16 372.80v2.4M410.86 372.80v2.4M412.36 372.80v2.4M413.70 372.80v5M422.52 372.80v2.4M427.68 372.80v2.4M431.34 372.80v2.4M434.18 372.80v2.4M436.50 372.80v2.4M438.46 372.80v2.4M440.16 372.80v2.4M441.66 372.80v2.4M443.00 372.80v5M451.82 372.80v2.4M456.98 372.80v2.4M460.64 372.80v2.4M463.48 372.80v2.4M465.80 372.80v2.4M467.76 372.80v2.4M469.46 372.80v2.4M470.96 372.80v2.4M472.30 372.80v5M481.12 372.80v2.4M486.28 372.80v2.4M489.94 372.80v2.4M492.78 372.80v2.4M495.10 372.80v2.4M497.06 372.80v2.4M498.76 372.80v2.4M500.26 372.80v2.4M501.60 372.80v5" stroke="#000" stroke-width="1" fill="none"/>
<path d="M383.00 370.70h-4.5M383.00 367.78h-2.4M383.00 364.86h-2.4M383.00 361.94h-2.4M383.00 359.02h-2.4M383.00 356.10h-4.5M383.00 353.18h-2.4M383.00 350.26h-2.4M383.00 347.34h-2.4M383.00 344.42h-2.4M383.00 341.50h-4.5M383.00 338.58h-2.4M383.00 335.66h-2.4M383.00 332.74h-2.4M383.00 329.82h-2.4M383.00 326.90h-4.5M383.00 323.98h-2.4M383.00 321.06h-2.4M383.00 318.14h-2.4M383.00 315.22h-2.4M383.00 312.30h-4.5M383.00 309.38h-2.4M383.00 306.46h-2.4M383.00 303.54h-2.4M383.00 300.62h-2.4M383.00 297.70h-4.5M383.00 294.78h-2.4M383.00 291.86h-2.4M383.00 288.94h-2.4M383.00 286.02h-2.4M383.00 283.10h-4.5" stroke="#000" stroke-width="1" fill="none"/>
<text transform="translate(376.46,389.00) scale(0.840,1)" font-family="Liberation Sans" font-weight="normal" font-size="11">10</text>
<text transform="translate(387.03,383.40) scale(0.840,1)" font-family="Liberation Sans" font-weight="normal" font-size="11">0</text>
<text transform="translate(405.76,389.00) scale(0.840,1)" font-family="Liberation Sans" font-weight="normal" font-size="11">10</text>
<text transform="translate(416.33,383.40) scale(0.840,1)" font-family="Liberation Sans" font-weight="normal" font-size="11">1</text>
<text transform="translate(435.06,389.00) scale(0.840,1)" font-family="Liberation Sans" font-weight="normal" font-size="11">10</text>
<text transform="translate(445.63,383.40) scale(0.840,1)" font-family="Liberation Sans" font-weight="normal" font-size="11">2</text>
<text transform="translate(464.36,389.00) scale(0.840,1)" font-family="Liberation Sans" font-weight="normal" font-size="11">10</text>
<text transform="translate(474.93,383.40) scale(0.840,1)" font-family="Liberation Sans" font-weight="normal" font-size="11">3</text>
<text transform="translate(493.66,389.00) scale(0.840,1)" font-family="Liberation Sans" font-weight="normal" font-size="11">10</text>
<text transform="translate(504.23,383.40) scale(0.840,1)" font-family="Liberation Sans" font-weight="normal" font-size="11">4</text>
<text transform="translate(441.70,399.30) scale(0.950,1)" font-family="Liberation Sans" font-weight="normal" font-size="10.5" text-anchor="middle">FL2-H</text>
<text transform="translate(375.50,371.20) rotate(-90) scale(0.900,1)" font-family="Liberation Sans" font-weight="normal" font-size="10.5" text-anchor="middle">0</text>
<text transform="translate(375.50,283.60) rotate(-90) scale(0.900,1)" font-family="Liberation Sans" font-weight="normal" font-size="10.5" text-anchor="middle">30</text>
<text transform="translate(364.50,328.50) rotate(-90) scale(0.980,1)" font-family="Liberation Sans" font-weight="normal" font-size="10.5" text-anchor="middle">Counts</text>
<text transform="translate(469.79,304.90) scale(0.961,1)" font-family="Liberation Serif" font-weight="normal" font-size="17.54" fill="#000">R2</text>
<polyline points="229.4,528.8 230.2,527.5 231.0,526.2 231.8,524.9 232.6,523.6 233.4,522.2 234.2,520.9 235.0,519.6 235.8,518.3 236.6,516.9 237.4,515.4 238.2,513.8 239.0,512.2 239.8,510.6 240.6,509.0 241.4,507.5 242.2,505.5 243.0,504.1 243.8,502.7 244.6,500.0 245.4,498.0 246.2,495.9 247.0,493.6 247.8,491.3 248.6,488.2 249.4,486.5 250.2,484.6 251.0,485.1 251.8,482.5 252.6,482.2 253.4,478.3 254.2,474.4 255.0,469.3 255.8,471.6 256.6,472.1 257.4,474.1 258.2,473.2 259.0,472.8 259.8,472.2 260.6,472.6 261.4,473.8 262.2,476.3 263.0,468.9 263.8,460.0 264.6,461.2 265.4,477.3 266.2,479.5 267.0,480.1 267.8,481.5 268.6,484.3 269.4,487.1 270.2,490.8 271.0,495.1 271.8,498.6 272.6,501.4 273.4,503.7 274.2,506.3 275.0,509.1 275.8,511.9 276.6,514.8 277.4,517.7 278.2,520.5 279.0,523.3 279.8,526.1 280.6,527.5 281.4,528.9 282.2,530.3 283.0,531.7 283.8,532.4 284.6,532.7 285.4,533.0 286.2,533.4 287.0,533.7 287.8,534.1 288.6,533.9 289.4,533.8 290.2,534.2 291.0,534.5 291.8,534.8 292.6,535.0 293.4,534.8 294.2,534.5 295.0,534.1 295.8,534.7 296.6,535.2 297.4,535.1 298.2,535.2 299.0,535.1 299.8,534.9 300.6,534.7 301.4,534.6 302.2,534.8 303.0,534.4 303.8,534.2 304.6,534.6 305.4,534.8 306.2,534.9 307.0,535.1 307.8,535.2 308.6,535.1 309.4,534.8 310.2,535.0 311.0,534.9 311.8,534.1 312.6,534.5 313.4,534.9 314.2,534.9 315.0,534.9 315.8,534.5 316.6,533.7 317.4,533.8 318.2,534.2 319.0,534.7 319.8,534.3 320.6,534.1 321.4,534.6 322.2,534.7 323.0,534.8 323.8,535.0 324.6,534.6 325.4,534.5 326.2,534.8 327.0,534.4 327.8,534.3 328.6,534.9 329.4,534.9 330.2,534.8 331.0,534.9 331.8,534.4 332.6,534.2 333.4,534.7 334.2,534.6 335.0,534.6 335.8,534.9 336.6,534.7 337.4,534.4 338.2,534.1 339.0,534.6 339.8,535.0 340.6,534.9 341.4,535.2" fill="none" stroke="#000" stroke-width="1.3" stroke-linejoin="miter" stroke-dasharray="1.1 0.9"/>
<path d="M262 460h2v1h-2zM262 462h2v1h-2zM262 464h2v1h-2zM262 466h2v1h-2zM262 468h2v1h-2zM253 470h2v1h-2zM262 470h2v1h-2zM253 472h2v1h-2zM259 472h2v1h-2zM262 472h2v1h-2zM253 474h2v1h-2zM259 474h2v1h-2zM262 474h2v1h-2zM253 476h2v1h-2zM262 476h2v1h-2zM253 478h2v1h-2zM250 480h2v1h-2zM250 482h2v1h-2zM250 484h2v1h-2z" fill="#000"/>
<polyline points="229.4,534.1 230.3,534.0 231.2,533.9 232.1,533.8 233.0,533.6 233.9,533.5 234.8,533.4 235.7,533.4 236.6,533.3 237.5,533.2 238.4,533.2 239.3,533.1 240.2,533.0 241.1,532.9 242.0,532.7 242.9,532.6 243.8,532.5 244.7,532.3 245.6,532.2 246.5,531.9 247.4,531.2 248.3,530.5 249.2,529.6 250.1,528.1 251.0,526.9 251.9,528.4 252.8,529.9 253.7,528.5 254.6,526.7 255.5,525.1 256.4,523.7 257.3,522.8 258.2,523.0 259.1,523.3 260.0,522.5 260.9,520.5 261.8,518.4 262.7,516.8 263.6,515.7 264.5,514.6 265.4,512.8 266.3,510.2 267.2,504.0 268.1,497.9 269.0,492.8 269.9,491.1 270.8,489.3 271.7,483.9 272.6,477.6 273.5,474.4 274.4,469.1 275.3,465.2 276.2,458.8 277.1,456.3 278.0,452.3 278.9,454.6 279.8,452.3 280.7,454.2 281.6,458.1 282.5,460.6 283.4,464.6 284.3,472.1 285.2,476.1 286.1,476.8 287.0,475.4 287.9,488.2 288.8,495.3 289.7,496.2 290.6,497.4 291.5,507.6 292.4,510.5 293.3,508.1 294.2,508.4 295.1,512.2 296.0,515.1 296.9,516.8 297.8,518.6 298.7,520.3 299.6,523.8 300.5,527.6 301.4,528.8 302.3,529.7 303.2,530.2 304.1,530.5 305.0,530.9 305.9,531.2 306.8,531.6 307.7,532.0 308.6,532.4 309.5,532.8 310.4,533.5 311.3,534.6 312.2,534.9 313.1,534.6 314.0,533.7 314.9,532.5 315.8,534.5 316.7,534.3 317.6,533.8 318.5,533.8 319.4,534.3 320.3,533.2 321.2,532.4 322.1,532.8 323.0,534.4 323.9,534.8 324.8,534.5 325.7,533.9 326.6,534.6 327.5,534.7 328.4,534.3 329.3,533.5 330.2,533.6 331.1,534.0 332.0,534.4 332.9,534.4 333.8,534.4 334.7,534.7 335.6,535.0 336.5,534.9 337.4,534.6 338.3,534.3 339.2,534.4 340.1,534.9 341.0,535.0" fill="none" stroke="#000" stroke-width="1.3" stroke-linejoin="miter"/>
<rect x="228.30" y="451.30" width="114.40" height="85.00" fill="none" stroke="#222" stroke-width="1.4"/>
<path d="M229.00 537.00v5M237.47 537.00v2.4M242.43 537.00v2.4M245.95 537.00v2.4M248.68 537.00v2.4M250.90 537.00v2.4M252.79 537.00v2.4M254.42 537.00v2.4M255.86 537.00v2.4M257.15 537.00v5M265.62 537.00v2.4M270.58 537.00v2.4M274.10 537.00v2.4M276.83 537.00v2.4M279.05 537.00v2.4M280.94 537.00v2.4M282.57 537.00v2.4M284.01 537.00v2.4M285.30 537.00v5M293.77 537.00v2.4M298.73 537.00v2.4M302.25 537.00v2.4M304.98 537.00v2.4M307.20 537.00v2.4M309.09 537.00v2.4M310.72 537.00v2.4M312.16 537.00v2.4M313.45 537.00v5M321.92 537.00v2.4M326.88 537.00v2.4M330.40 537.00v2.4M333.13 537.00v2.4M335.35 537.00v2.4M337.24 537.00v2.4M338.87 537.00v2.4M340.31 537.00v2.4M341.60 537.00v5" stroke="#000" stroke-width="1" fill="none"/>
<path d="M227.60 534.90h-4.5M227.60 531.57h-2.4M227.60 528.24h-2.4M227.60 524.92h-2.4M227.60 521.59h-2.4M227.60 518.26h-4.5M227.60 514.93h-2.4M227.60 511.60h-2.4M227.60 508.28h-2.4M227.60 504.95h-2.4M227.60 501.62h-4.5M227.60 498.29h-2.4M227.60 494.96h-2.4M227.60 491.64h-2.4M227.60 488.31h-2.4M227.60 484.98h-4.5M227.60 481.65h-2.4M227.60 478.32h-2.4M227.60 475.00h-2.4M227.60 471.67h-2.4M227.60 468.34h-4.5M227.60 465.01h-2.4M227.60 461.68h-2.4M227.60 458.36h-2.4M227.60 455.03h-2.4M227.60 451.70h-4.5" stroke="#000" stroke-width="1" fill="none"/>
<text transform="translate(221.06,553.20) scale(0.840,1)" font-family="Liberation Sans" font-weight="normal" font-size="11">10</text>
<text transform="translate(231.63,547.60) scale(0.840,1)" font-family="Liberation Sans" font-weight="normal" font-size="11">0</text>
<text transform="translate(249.21,553.20) scale(0.840,1)" font-family="Liberation Sans" font-weight="normal" font-size="11">10</text>
<text transform="translate(259.78,547.60) scale(0.840,1)" font-family="Liberation Sans" font-weight="normal" font-size="11">1</text>
<text transform="translate(277.36,553.20) scale(0.840,1)" font-family="Liberation Sans" font-weight="normal" font-size="11">10</text>
<text transform="translate(287.93,547.60) scale(0.840,1)" font-family="Liberation Sans" font-weight="normal" font-size="11">2</text>
<text transform="translate(305.51,553.20) scale(0.840,1)" font-family="Liberation Sans" font-weight="normal" font-size="11">10</text>
<text transform="translate(316.08,547.60) scale(0.840,1)" font-family="Liberation Sans" font-weight="normal" font-size="11">3</text>
<text transform="translate(333.66,553.20) scale(0.840,1)" font-family="Liberation Sans" font-weight="normal" font-size="11">10</text>
<text transform="translate(344.23,547.60) scale(0.840,1)" font-family="Liberation Sans" font-weight="normal" font-size="11">4</text>
<text transform="translate(284.00,563.50) scale(0.950,1)" font-family="Liberation Sans" font-weight="normal" font-size="10.5" text-anchor="middle">FL2-H</text>
<text transform="translate(220.10,535.40) rotate(-90) scale(0.900,1)" font-family="Liberation Sans" font-weight="normal" font-size="10.5" text-anchor="middle">0</text>
<text transform="translate(220.10,518.76) rotate(-90) scale(0.900,1)" font-family="Liberation Sans" font-weight="normal" font-size="10.5" text-anchor="middle">10</text>
<text transform="translate(220.10,502.12) rotate(-90) scale(0.900,1)" font-family="Liberation Sans" font-weight="normal" font-size="10.5" text-anchor="middle">20</text>
<text transform="translate(220.10,485.48) rotate(-90) scale(0.900,1)" font-family="Liberation Sans" font-weight="normal" font-size="10.5" text-anchor="middle">30</text>
<text transform="translate(220.10,468.84) rotate(-90) scale(0.900,1)" font-family="Liberation Sans" font-weight="normal" font-size="10.5" text-anchor="middle">40</text>
<text transform="translate(220.10,452.20) rotate(-90) scale(0.900,1)" font-family="Liberation Sans" font-weight="normal" font-size="10.5" text-anchor="middle">50</text>
<text transform="translate(209.10,494.90) rotate(-90) scale(0.980,1)" font-family="Liberation Sans" font-weight="normal" font-size="10.5" text-anchor="middle">Counts</text>
<text transform="translate(316.82,474.35) scale(1.041,1)" font-family="Liberation Serif" font-weight="normal" font-size="15.45" fill="#000">R3</text>
<polyline points="392.7,537.5 393.5,535.9 394.3,534.3 395.1,532.8 395.9,531.2 396.7,529.9 397.5,528.7 398.3,527.5 399.1,526.3 399.9,525.1 400.7,523.9 401.5,522.7 402.3,521.3 403.1,520.0 403.9,518.6 404.7,517.3 405.5,515.9 406.3,513.9 407.1,511.9 407.9,509.9 408.7,507.8 409.5,505.4 410.3,503.0 411.1,499.8 411.9,496.6 412.7,493.7 413.5,489.0 414.3,489.2 415.1,487.0 415.9,486.3 416.7,482.4 417.5,480.9 418.3,476.1 419.1,472.9 419.9,472.1 420.7,475.7 421.5,476.5 422.3,479.4 423.1,481.0 423.9,480.7 424.7,479.3 425.5,477.4 426.3,477.0 427.1,472.0 427.9,466.4 428.7,461.3 429.5,464.6 430.3,478.0 431.1,483.0 431.9,481.9 432.7,481.7 433.5,482.7 434.3,487.6 435.1,489.4 435.9,494.3 436.7,498.0 437.5,501.6 438.3,504.5 439.1,506.2 439.9,506.6 440.7,508.8 441.5,512.8 442.3,516.8 443.1,520.8 443.9,524.1 444.7,527.3 445.5,530.5 446.3,532.6 447.1,533.7 447.9,534.8 448.7,535.9 449.5,537.0 450.3,537.7 451.1,538.1 451.9,538.5 452.7,538.9 453.5,539.3 454.3,539.3 455.1,538.9 455.9,538.8 456.7,539.3 457.5,540.5 458.3,539.4 459.1,539.3 459.9,540.3 460.7,539.8 461.5,539.9 462.3,540.5 463.1,539.8 463.9,539.8 464.7,540.5 465.5,539.6 466.3,539.4 467.1,539.8 467.9,538.6 468.7,538.7 469.5,540.2 470.3,540.2 471.1,540.1 471.9,539.8 472.7,539.8 473.5,539.9 474.3,540.3 475.1,540.0 475.9,539.9 476.7,540.2 477.5,540.3 478.3,540.0 479.1,539.6 479.9,538.9 480.7,538.7 481.5,538.9 482.3,539.9 483.1,540.1 483.9,539.7 484.7,539.6 485.5,539.8 486.3,540.2 487.1,539.8 487.9,539.3 488.7,538.5 489.5,538.7 490.3,539.3 491.1,540.4 491.9,540.4 492.7,540.4 493.5,540.4 494.3,539.9 495.1,539.9 495.9,540.5 496.7,539.9 497.5,539.7 498.3,539.9 499.1,539.8 499.9,539.8 500.7,539.8 501.5,539.8 502.3,539.6 503.1,539.2 503.9,539.9 504.7,540.1 505.5,540.0 506.3,539.5 507.1,539.5 507.9,539.8 508.7,539.7 509.5,539.8 510.3,540.5" fill="none" stroke="#000" stroke-width="1.3" stroke-linejoin="miter" stroke-dasharray="1.1 0.9"/>
<path d="M428 462h2v1h-2zM428 464h2v1h-2zM428 466h2v1h-2zM428 468h2v1h-2zM428 470h2v1h-2zM419 472h2v1h-2zM428 472h2v1h-2zM419 474h2v1h-2zM428 474h2v1h-2zM419 476h2v1h-2zM428 476h2v1h-2zM419 478h2v1h-2zM428 478h2v1h-2zM428 480h2v1h-2zM428 482h2v1h-2zM431 482h2v1h-2zM431 484h2v1h-2zM413 486h2v1h-2zM413 488h2v1h-2zM413 490h2v1h-2z" fill="#000"/>
<polyline points="392.7,540.2 393.6,539.8 394.5,539.5 395.4,539.1 396.3,538.9 397.2,539.4 398.1,539.8 399.0,540.0 399.9,539.1 400.8,538.2 401.7,537.5 402.6,537.5 403.5,537.5 404.4,537.5 405.3,537.5 406.2,536.1 407.1,534.3 408.0,532.5 408.9,532.8 409.8,533.7 410.7,534.6 411.6,534.4 412.5,534.0 413.4,533.5 414.3,532.7 415.2,531.9 416.1,531.0 417.0,530.3 417.9,529.7 418.8,529.1 419.7,528.5 420.6,527.7 421.5,526.7 422.4,525.6 423.3,524.5 424.2,522.0 425.1,518.3 426.0,515.3 426.9,513.5 427.8,511.9 428.7,509.2 429.6,504.7 430.5,500.8 431.4,495.1 432.3,490.9 433.2,483.2 434.1,478.3 435.0,470.1 435.9,468.6 436.8,469.3 437.7,471.2 438.6,464.8 439.5,461.1 440.4,455.7 441.3,457.4 442.2,455.6 443.1,453.6 444.0,458.0 444.9,457.9 445.8,463.9 446.7,465.9 447.6,471.5 448.5,473.0 449.4,480.7 450.3,484.5 451.2,488.7 452.1,495.1 453.0,500.9 453.9,504.8 454.8,506.1 455.7,507.3 456.6,511.0 457.5,515.6 458.4,512.1 459.3,514.3 460.2,521.0 461.1,525.7 462.0,526.6 462.9,527.5 463.8,528.7 464.7,530.5 465.6,532.2 466.5,533.6 467.4,534.9 468.3,536.2 469.2,536.9 470.1,537.6 471.0,538.2 471.9,538.4 472.8,538.6 473.7,538.7 474.6,538.9 475.5,539.1 476.4,539.3 477.3,539.4 478.2,538.7 479.1,537.6 480.0,536.6 480.9,538.3 481.8,538.6 482.7,538.4 483.6,538.6 484.5,539.4 485.4,539.9 486.3,540.0 487.2,539.9 488.1,538.9 489.0,538.9 489.9,539.4 490.8,540.1 491.7,539.5 492.6,539.0 493.5,538.9 494.4,539.8 495.3,539.1 496.2,539.5 497.1,540.0 498.0,539.7 498.9,538.6 499.8,538.0 500.7,538.3 501.6,540.0 502.5,539.2 503.4,539.3 504.3,539.6 505.2,539.2 506.1,539.2 507.0,539.2 507.9,539.3 508.8,539.7 509.7,539.0" fill="none" stroke="#000" stroke-width="1.3" stroke-linejoin="miter"/>
<rect x="391.90" y="452.50" width="119.40" height="89.00" fill="none" stroke="#222" stroke-width="1.4"/>
<path d="M392.60 542.20v5M401.45 542.20v2.4M406.63 542.20v2.4M410.30 542.20v2.4M413.15 542.20v2.4M415.48 542.20v2.4M417.45 542.20v2.4M419.15 542.20v2.4M420.65 542.20v2.4M422.00 542.20v5M430.85 542.20v2.4M436.03 542.20v2.4M439.70 542.20v2.4M442.55 542.20v2.4M444.88 542.20v2.4M446.85 542.20v2.4M448.55 542.20v2.4M450.05 542.20v2.4M451.40 542.20v5M460.25 542.20v2.4M465.43 542.20v2.4M469.10 542.20v2.4M471.95 542.20v2.4M474.28 542.20v2.4M476.25 542.20v2.4M477.95 542.20v2.4M479.45 542.20v2.4M480.80 542.20v5M489.65 542.20v2.4M494.83 542.20v2.4M498.50 542.20v2.4M501.35 542.20v2.4M503.68 542.20v2.4M505.65 542.20v2.4M507.35 542.20v2.4M508.85 542.20v2.4M510.20 542.20v5" stroke="#000" stroke-width="1" fill="none"/>
<path d="M391.20 540.10h-4.5M391.20 536.61h-2.4M391.20 533.12h-2.4M391.20 529.64h-2.4M391.20 526.15h-2.4M391.20 522.66h-4.5M391.20 519.17h-2.4M391.20 515.68h-2.4M391.20 512.20h-2.4M391.20 508.71h-2.4M391.20 505.22h-4.5M391.20 501.73h-2.4M391.20 498.24h-2.4M391.20 494.76h-2.4M391.20 491.27h-2.4M391.20 487.78h-4.5M391.20 484.29h-2.4M391.20 480.80h-2.4M391.20 477.32h-2.4M391.20 473.83h-2.4M391.20 470.34h-4.5M391.20 466.85h-2.4M391.20 463.36h-2.4M391.20 459.88h-2.4M391.20 456.39h-2.4M391.20 452.90h-4.5" stroke="#000" stroke-width="1" fill="none"/>
<text transform="translate(384.66,558.40) scale(0.840,1)" font-family="Liberation Sans" font-weight="normal" font-size="11">10</text>
<text transform="translate(395.23,552.80) scale(0.840,1)" font-family="Liberation Sans" font-weight="normal" font-size="11">0</text>
<text transform="translate(414.06,558.40) scale(0.840,1)" font-family="Liberation Sans" font-weight="normal" font-size="11">10</text>
<text transform="translate(424.63,552.80) scale(0.840,1)" font-family="Liberation Sans" font-weight="normal" font-size="11">1</text>
<text transform="translate(443.46,558.40) scale(0.840,1)" font-family="Liberation Sans" font-weight="normal" font-size="11">10</text>
<text transform="translate(454.03,552.80) scale(0.840,1)" font-family="Liberation Sans" font-weight="normal" font-size="11">2</text>
<text transform="translate(472.86,558.40) scale(0.840,1)" font-family="Liberation Sans" font-weight="normal" font-size="11">10</text>
<text transform="translate(483.43,552.80) scale(0.840,1)" font-family="Liberation Sans" font-weight="normal" font-size="11">3</text>
<text transform="translate(502.26,558.40) scale(0.840,1)" font-family="Liberation Sans" font-weight="normal" font-size="11">10</text>
<text transform="translate(512.83,552.80) scale(0.840,1)" font-family="Liberation Sans" font-weight="normal" font-size="11">4</text>
<text transform="translate(450.10,568.70) scale(0.950,1)" font-family="Liberation Sans" font-weight="normal" font-size="10.5" text-anchor="middle">FL2-H</text>
<text transform="translate(383.70,540.60) rotate(-90) scale(0.900,1)" font-family="Liberation Sans" font-weight="normal" font-size="10.5" text-anchor="middle">0</text>
<text transform="translate(383.70,523.16) rotate(-90) scale(0.900,1)" font-family="Liberation Sans" font-weight="normal" font-size="10.5" text-anchor="middle">10</text>
<text transform="translate(383.70,505.72) rotate(-90) scale(0.900,1)" font-family="Liberation Sans" font-weight="normal" font-size="10.5" text-anchor="middle">20</text>
<text transform="translate(383.70,488.28) rotate(-90) scale(0.900,1)" font-family="Liberation Sans" font-weight="normal" font-size="10.5" text-anchor="middle">30</text>
<text transform="translate(383.70,470.84) rotate(-90) scale(0.900,1)" font-family="Liberation Sans" font-weight="normal" font-size="10.5" text-anchor="middle">40</text>
<text transform="translate(383.70,453.40) rotate(-90) scale(0.900,1)" font-family="Liberation Sans" font-weight="normal" font-size="10.5" text-anchor="middle">50</text>
<text transform="translate(372.70,498.10) rotate(-90) scale(0.980,1)" font-family="Liberation Sans" font-weight="normal" font-size="10.5" text-anchor="middle">Counts</text>
<text transform="translate(477.80,474.43) scale(0.984,1)" font-family="Liberation Serif" font-weight="normal" font-size="16.82" fill="#000">R3</text>
<polyline points="228.4,762.1 229.2,760.0 230.0,757.9 230.8,755.2 231.6,751.9 232.4,748.7 233.2,745.5 234.0,742.2 234.8,739.4 235.6,736.9 236.4,734.8 237.2,732.8 238.0,729.7 238.8,726.9 239.6,722.3 240.4,718.1 241.2,713.9 242.0,709.2 242.8,709.1 243.6,709.4 244.4,712.1 245.2,715.8 246.0,719.4 246.8,710.4 247.6,703.7 248.4,701.7 249.2,701.5 250.0,705.7 250.8,710.5 251.6,715.0 252.4,712.5 253.2,708.4 254.0,707.7 254.8,708.3 255.6,705.0 256.4,705.5 257.2,705.8 258.0,706.3 258.8,703.7 259.6,704.5 260.4,706.3 261.2,706.4 262.0,709.4 262.8,708.6 263.6,710.6 264.4,714.2 265.2,720.1 266.0,721.6 266.8,723.8 267.6,724.1 268.4,725.2 269.2,726.4 270.0,727.1 270.8,728.4 271.6,733.4 272.4,738.1 273.2,741.8 274.0,745.5 274.8,744.6 275.6,743.0 276.4,741.5 277.2,739.9 278.0,742.4 278.8,747.3 279.6,748.1 280.4,748.9 281.2,749.7 282.0,750.8 282.8,752.1 283.6,753.3 284.4,754.6 285.2,755.8 286.0,756.7 286.8,757.7 287.6,758.7 288.4,759.9 289.2,761.1 290.0,762.3 290.8,762.7 291.6,763.1 292.4,763.5 293.2,763.9 294.0,764.3 294.8,764.7 295.6,766.1 296.4,767.2 297.2,766.8 298.0,767.0 298.8,767.3 299.6,767.0 300.4,766.4 301.2,766.1 302.0,767.2 302.8,767.0 303.6,766.7 304.4,767.4 305.2,767.4 306.0,767.1 306.8,766.8 307.6,767.2 308.4,767.6 309.2,767.2 310.0,767.0 310.8,766.9 311.6,767.3 312.4,766.9 313.2,766.7 314.0,767.0 314.8,767.2 315.6,767.2 316.4,767.3 317.2,767.5 318.0,767.5 318.8,766.9 319.6,767.1 320.4,767.5 321.2,767.5 322.0,767.4 322.8,767.2 323.6,767.1 324.4,766.8 325.2,766.6 326.0,766.9 326.8,767.0 327.6,767.0 328.4,767.1 329.2,767.4 330.0,767.6 330.8,767.3 331.6,767.4 332.4,767.5 333.2,767.2 334.0,767.3 334.8,767.4 335.6,767.3 336.4,767.4 337.2,767.5 338.0,767.2 338.8,767.1 339.6,767.1 340.4,767.3 341.2,767.0 342.0,766.8 342.8,767.3 343.6,767.3 344.4,767.2 345.2,767.2" fill="none" stroke="#000" stroke-width="1.3" stroke-linejoin="miter" stroke-dasharray="1.1 0.9"/>
<path d="M249 702h2v1h-2zM249 704h2v1h-2zM249 706h2v1h-2zM261 706h2v1h-2zM249 708h2v1h-2zM252 708h2v1h-2zM261 708h2v1h-2zM240 710h2v1h-2zM249 710h2v1h-2zM252 710h2v1h-2zM261 710h2v1h-2zM240 712h2v1h-2zM249 712h2v1h-2zM252 712h2v1h-2zM240 714h2v1h-2zM249 714h2v1h-2zM240 716h2v1h-2zM240 718h2v1h-2zM276 740h2v1h-2zM273 742h2v1h-2zM276 742h2v1h-2zM273 744h2v1h-2zM276 744h2v1h-2zM276 746h2v1h-2z" fill="#000"/>
<polyline points="228.4,764.8 229.3,764.8 230.2,764.8 231.1,764.8 232.0,764.8 232.9,764.8 233.8,764.7 234.7,764.6 235.6,764.4 236.5,764.3 237.4,764.1 238.3,763.8 239.2,763.5 240.1,763.2 241.0,762.9 241.9,762.3 242.8,761.8 243.7,761.2 244.6,761.2 245.5,761.3 246.4,761.4 247.3,761.4 248.2,760.1 249.1,758.9 250.0,760.1 250.9,761.6 251.8,761.3 252.7,760.2 253.6,759.2 254.5,758.5 255.4,757.7 256.3,757.0 257.2,755.9 258.1,754.5 259.0,753.2 259.9,751.8 260.8,750.5 261.7,749.1 262.6,747.2 263.5,745.0 264.4,742.7 265.3,740.0 266.2,737.0 267.1,734.2 268.0,731.6 268.9,728.9 269.8,724.1 270.7,719.7 271.6,715.6 272.5,711.4 273.4,702.1 274.3,700.7 275.2,698.1 276.1,697.2 277.0,697.8 277.9,695.1 278.8,689.5 279.7,685.7 280.6,689.0 281.5,689.7 282.4,692.5 283.3,692.9 284.2,694.0 285.1,698.4 286.0,702.0 286.9,706.5 287.8,708.8 288.7,710.7 289.6,705.6 290.5,706.4 291.4,715.0 292.3,718.9 293.2,720.4 294.1,722.0 295.0,724.2 295.9,727.0 296.8,730.5 297.7,733.9 298.6,736.0 299.5,737.5 300.4,739.1 301.3,740.5 302.2,741.8 303.1,744.7 304.0,748.3 304.9,751.9 305.8,751.9 306.7,751.4 307.6,751.3 308.5,753.5 309.4,755.8 310.3,758.0 311.2,760.3 312.1,762.5 313.0,763.3 313.9,762.8 314.8,762.4 315.7,762.8 316.6,763.4 317.5,763.9 318.4,764.5 319.3,765.3 320.2,766.0 321.1,766.4 322.0,766.3 322.9,766.2 323.8,766.1 324.7,766.3 325.6,766.9 326.5,767.2 327.4,767.0 328.3,766.1 329.2,766.6 330.1,766.5 331.0,766.0 331.9,766.8 332.8,766.3 333.7,765.6 334.6,765.5 335.5,767.1 336.4,767.0 337.3,766.0 338.2,765.2 339.1,767.2 340.0,767.2 340.9,767.1 341.8,767.0 342.7,766.0 343.6,766.6 344.5,767.1 345.4,767.3" fill="none" stroke="#000" stroke-width="1.3" stroke-linejoin="miter"/>
<rect x="227.90" y="679.10" width="118.80" height="89.60" fill="none" stroke="#222" stroke-width="1.4"/>
<path d="M228.60 769.40v5M237.41 769.40v2.4M242.56 769.40v2.4M246.21 769.40v2.4M249.04 769.40v2.4M251.36 769.40v2.4M253.32 769.40v2.4M255.02 769.40v2.4M256.51 769.40v2.4M257.85 769.40v5M266.66 769.40v2.4M271.81 769.40v2.4M275.46 769.40v2.4M278.29 769.40v2.4M280.61 769.40v2.4M282.57 769.40v2.4M284.27 769.40v2.4M285.76 769.40v2.4M287.10 769.40v5M295.91 769.40v2.4M301.06 769.40v2.4M304.71 769.40v2.4M307.54 769.40v2.4M309.86 769.40v2.4M311.82 769.40v2.4M313.52 769.40v2.4M315.01 769.40v2.4M316.35 769.40v5M325.16 769.40v2.4M330.31 769.40v2.4M333.96 769.40v2.4M336.79 769.40v2.4M339.11 769.40v2.4M341.07 769.40v2.4M342.77 769.40v2.4M344.26 769.40v2.4M345.60 769.40v5" stroke="#000" stroke-width="1" fill="none"/>
<path d="M227.20 767.30h-4.5M227.20 763.79h-2.4M227.20 760.28h-2.4M227.20 756.76h-2.4M227.20 753.25h-2.4M227.20 749.74h-4.5M227.20 746.23h-2.4M227.20 742.72h-2.4M227.20 739.20h-2.4M227.20 735.69h-2.4M227.20 732.18h-4.5M227.20 728.67h-2.4M227.20 725.16h-2.4M227.20 721.64h-2.4M227.20 718.13h-2.4M227.20 714.62h-4.5M227.20 711.11h-2.4M227.20 707.60h-2.4M227.20 704.08h-2.4M227.20 700.57h-2.4M227.20 697.06h-4.5M227.20 693.55h-2.4M227.20 690.04h-2.4M227.20 686.52h-2.4M227.20 683.01h-2.4M227.20 679.50h-4.5" stroke="#000" stroke-width="1" fill="none"/>
<text transform="translate(220.66,785.60) scale(0.840,1)" font-family="Liberation Sans" font-weight="normal" font-size="11">10</text>
<text transform="translate(231.23,780.00) scale(0.840,1)" font-family="Liberation Sans" font-weight="normal" font-size="11">0</text>
<text transform="translate(249.91,785.60) scale(0.840,1)" font-family="Liberation Sans" font-weight="normal" font-size="11">10</text>
<text transform="translate(260.48,780.00) scale(0.840,1)" font-family="Liberation Sans" font-weight="normal" font-size="11">1</text>
<text transform="translate(279.16,785.60) scale(0.840,1)" font-family="Liberation Sans" font-weight="normal" font-size="11">10</text>
<text transform="translate(289.73,780.00) scale(0.840,1)" font-family="Liberation Sans" font-weight="normal" font-size="11">2</text>
<text transform="translate(308.41,785.60) scale(0.840,1)" font-family="Liberation Sans" font-weight="normal" font-size="11">10</text>
<text transform="translate(318.98,780.00) scale(0.840,1)" font-family="Liberation Sans" font-weight="normal" font-size="11">3</text>
<text transform="translate(337.66,785.60) scale(0.840,1)" font-family="Liberation Sans" font-weight="normal" font-size="11">10</text>
<text transform="translate(348.23,780.00) scale(0.840,1)" font-family="Liberation Sans" font-weight="normal" font-size="11">4</text>
<text transform="translate(285.80,795.90) scale(0.950,1)" font-family="Liberation Sans" font-weight="normal" font-size="10.5" text-anchor="middle">FL2-H</text>
<text transform="translate(219.70,767.80) rotate(-90) scale(0.900,1)" font-family="Liberation Sans" font-weight="normal" font-size="10.5" text-anchor="middle">0</text>
<text transform="translate(219.70,750.24) rotate(-90) scale(0.900,1)" font-family="Liberation Sans" font-weight="normal" font-size="10.5" text-anchor="middle">10</text>
<text transform="translate(219.70,732.68) rotate(-90) scale(0.900,1)" font-family="Liberation Sans" font-weight="normal" font-size="10.5" text-anchor="middle">20</text>
<text transform="translate(219.70,715.12) rotate(-90) scale(0.900,1)" font-family="Liberation Sans" font-weight="normal" font-size="10.5" text-anchor="middle">30</text>
<text transform="translate(219.70,697.56) rotate(-90) scale(0.900,1)" font-family="Liberation Sans" font-weight="normal" font-size="10.5" text-anchor="middle">40</text>
<text transform="translate(219.70,680.00) rotate(-90) scale(0.900,1)" font-family="Liberation Sans" font-weight="normal" font-size="10.5" text-anchor="middle">50</text>
<text transform="translate(208.70,725.00) rotate(-90) scale(0.980,1)" font-family="Liberation Sans" font-weight="normal" font-size="10.5" text-anchor="middle">Counts</text>
<text transform="translate(314.33,701.00) scale(0.969,1)" font-family="Liberation Serif" font-weight="normal" font-size="16.31" fill="#000">R4</text>
<polyline points="392.7,766.8 393.5,761.4 394.3,756.9 395.1,754.7 395.9,752.5 396.7,750.0 397.5,747.3 398.3,744.8 399.1,742.7 399.9,740.5 400.7,738.0 401.5,735.1 402.3,732.5 403.1,729.6 403.9,724.8 404.7,719.2 405.5,715.5 406.3,712.2 407.1,711.2 407.9,715.7 408.7,718.8 409.5,718.0 410.3,714.3 411.1,710.1 411.9,708.3 412.7,705.3 413.5,709.1 414.3,713.4 415.1,716.7 415.9,714.7 416.7,711.9 417.5,710.2 418.3,711.7 419.1,710.1 419.9,710.2 420.7,710.6 421.5,708.6 422.3,705.9 423.1,706.5 423.9,707.8 424.7,710.2 425.5,709.6 426.3,710.6 427.1,714.1 427.9,715.0 428.7,717.7 429.5,720.2 430.3,723.5 431.1,726.7 431.9,729.8 432.7,731.6 433.5,732.0 434.3,731.5 435.1,731.5 435.9,733.9 436.7,736.5 437.5,742.5 438.3,746.0 439.1,745.1 439.9,744.1 440.7,743.2 441.5,743.8 442.3,747.1 443.1,750.3 443.9,751.4 444.7,752.2 445.5,753.0 446.3,753.8 447.1,754.6 447.9,755.5 448.7,756.5 449.5,757.5 450.3,758.4 451.1,760.1 451.9,762.1 452.7,764.1 453.5,764.6 454.3,765.0 455.1,765.5 455.9,765.9 456.7,766.4 457.5,766.8 458.3,766.9 459.1,767.0 459.9,767.1 460.7,767.2 461.5,767.3 462.3,767.4 463.1,767.5 463.9,767.6 464.7,767.7 465.5,767.9 466.3,768.0 467.1,768.1 467.9,768.2 468.7,768.2 469.5,768.3 470.3,769.5 471.1,769.9 471.9,769.7 472.7,768.6 473.5,768.6 474.3,769.3 475.1,769.6 475.9,769.6 476.7,769.4 477.5,768.8 478.3,768.6 479.1,768.8 479.9,769.5 480.7,769.4 481.5,769.0 482.3,768.9 483.1,769.2 483.9,769.7 484.7,769.3 485.5,769.3 486.3,769.4 487.1,769.4 487.9,769.6 488.7,769.8 489.5,769.7 490.3,769.7 491.1,769.9 491.9,769.9 492.7,769.8 493.5,769.7 494.3,769.5 495.1,769.6 495.9,769.8 496.7,768.8 497.5,768.8 498.3,769.3 499.1,769.4 499.9,769.5 500.7,769.6 501.5,769.1 502.3,768.9 503.1,768.8 503.9,769.2 504.7,769.3 505.5,769.2 506.3,769.4 507.1,769.0 507.9,768.5 508.7,769.1 509.5,769.5 510.3,770.0" fill="none" stroke="#000" stroke-width="1.3" stroke-linejoin="miter" stroke-dasharray="1.1 0.9"/>
<path d="M410 706h2v1h-2zM422 706h2v1h-2zM410 708h2v1h-2zM413 708h2v1h-2zM419 708h2v1h-2zM422 708h2v1h-2zM410 710h2v1h-2zM413 710h2v1h-2zM416 710h2v1h-2zM419 710h2v1h-2zM422 710h2v1h-2zM425 710h2v1h-2zM407 712h2v1h-2zM410 712h2v1h-2zM413 712h2v1h-2zM416 712h2v1h-2zM425 712h2v1h-2zM407 714h2v1h-2zM410 714h2v1h-2zM413 714h2v1h-2zM425 714h2v1h-2zM407 716h2v1h-2zM413 716h2v1h-2zM407 718h2v1h-2zM431 728h2v1h-2zM431 730h2v1h-2zM434 732h2v1h-2zM434 734h2v1h-2zM434 736h2v1h-2zM434 738h2v1h-2zM437 740h2v1h-2zM437 742h2v1h-2zM437 744h2v1h-2zM440 744h2v1h-2zM440 746h2v1h-2zM440 748h2v1h-2z" fill="#000"/>
<polyline points="392.7,769.5 393.6,769.7 394.5,769.9 395.4,770.1 396.3,770.1 397.2,769.9 398.1,769.7 399.0,769.2 399.9,767.9 400.8,766.5 401.7,765.4 402.6,764.7 403.5,764.1 404.4,764.8 405.3,765.5 406.2,766.2 407.1,765.5 408.0,764.8 408.9,764.1 409.8,764.8 410.7,765.5 411.6,766.2 412.5,765.0 413.4,763.8 414.3,763.0 415.2,764.4 416.1,765.9 417.0,765.0 417.9,763.4 418.8,761.8 419.7,760.3 420.6,758.9 421.5,757.6 422.4,756.4 423.3,755.2 424.2,755.0 425.1,755.7 426.0,755.1 426.9,752.0 427.8,749.0 428.7,746.7 429.6,744.3 430.5,738.5 431.4,734.4 432.3,734.9 433.2,733.6 434.1,727.0 435.0,722.7 435.9,720.6 436.8,717.1 437.7,713.7 438.6,712.4 439.5,706.4 440.4,701.8 441.3,699.7 442.2,697.0 443.1,692.0 444.0,687.0 444.9,683.6 445.8,683.9 446.7,684.9 447.6,690.6 448.5,695.5 449.4,693.8 450.3,693.6 451.2,695.9 452.1,702.5 453.0,706.5 453.9,710.5 454.8,718.1 455.7,725.1 456.6,723.8 457.5,721.5 458.4,722.0 459.3,730.6 460.2,735.3 461.1,739.4 462.0,740.9 462.9,740.3 463.8,741.3 464.7,744.8 465.6,748.1 466.5,749.5 467.4,750.8 468.3,752.1 469.2,752.8 470.1,753.6 471.0,754.4 471.9,755.1 472.8,756.2 473.7,757.3 474.6,758.4 475.5,757.2 476.4,754.8 477.3,755.3 478.2,759.6 479.1,761.5 480.0,763.0 480.9,764.0 481.8,764.7 482.7,765.5 483.6,766.2 484.5,766.9 485.4,767.2 486.3,767.5 487.2,767.8 488.1,768.1 489.0,768.2 489.9,768.6 490.8,769.5 491.7,769.5 492.6,769.2 493.5,769.1 494.4,769.4 495.3,768.8 496.2,769.1 497.1,769.3 498.0,768.3 498.9,769.0 499.8,769.2 500.7,769.0 501.6,768.5 502.5,769.1 503.4,769.1 504.3,768.7 505.2,768.3 506.1,767.8 507.0,768.2 507.9,768.8 508.8,769.0 509.7,769.2" fill="none" stroke="#000" stroke-width="1.3" stroke-linejoin="miter"/>
<rect x="392.20" y="681.50" width="119.10" height="89.50" fill="none" stroke="#222" stroke-width="1.4"/>
<path d="M392.90 771.70v5M401.73 771.70v2.4M406.89 771.70v2.4M410.56 771.70v2.4M413.40 771.70v2.4M415.72 771.70v2.4M417.68 771.70v2.4M419.38 771.70v2.4M420.88 771.70v2.4M422.22 771.70v5M431.05 771.70v2.4M436.22 771.70v2.4M439.88 771.70v2.4M442.72 771.70v2.4M445.04 771.70v2.4M447.01 771.70v2.4M448.71 771.70v2.4M450.21 771.70v2.4M451.55 771.70v5M460.38 771.70v2.4M465.54 771.70v2.4M469.21 771.70v2.4M472.05 771.70v2.4M474.37 771.70v2.4M476.33 771.70v2.4M478.03 771.70v2.4M479.53 771.70v2.4M480.88 771.70v5M489.70 771.70v2.4M494.87 771.70v2.4M498.53 771.70v2.4M501.37 771.70v2.4M503.69 771.70v2.4M505.66 771.70v2.4M507.36 771.70v2.4M508.86 771.70v2.4M510.20 771.70v5" stroke="#000" stroke-width="1" fill="none"/>
<path d="M391.50 769.60h-4.5M391.50 766.09h-2.4M391.50 762.58h-2.4M391.50 759.08h-2.4M391.50 755.57h-2.4M391.50 752.06h-4.5M391.50 748.55h-2.4M391.50 745.04h-2.4M391.50 741.54h-2.4M391.50 738.03h-2.4M391.50 734.52h-4.5M391.50 731.01h-2.4M391.50 727.50h-2.4M391.50 724.00h-2.4M391.50 720.49h-2.4M391.50 716.98h-4.5M391.50 713.47h-2.4M391.50 709.96h-2.4M391.50 706.46h-2.4M391.50 702.95h-2.4M391.50 699.44h-4.5M391.50 695.93h-2.4M391.50 692.42h-2.4M391.50 688.92h-2.4M391.50 685.41h-2.4M391.50 681.90h-4.5" stroke="#000" stroke-width="1" fill="none"/>
<text transform="translate(384.96,787.90) scale(0.840,1)" font-family="Liberation Sans" font-weight="normal" font-size="11">10</text>
<text transform="translate(395.53,782.30) scale(0.840,1)" font-family="Liberation Sans" font-weight="normal" font-size="11">0</text>
<text transform="translate(414.28,787.90) scale(0.840,1)" font-family="Liberation Sans" font-weight="normal" font-size="11">10</text>
<text transform="translate(424.85,782.30) scale(0.840,1)" font-family="Liberation Sans" font-weight="normal" font-size="11">1</text>
<text transform="translate(443.61,787.90) scale(0.840,1)" font-family="Liberation Sans" font-weight="normal" font-size="11">10</text>
<text transform="translate(454.18,782.30) scale(0.840,1)" font-family="Liberation Sans" font-weight="normal" font-size="11">2</text>
<text transform="translate(472.94,787.90) scale(0.840,1)" font-family="Liberation Sans" font-weight="normal" font-size="11">10</text>
<text transform="translate(483.50,782.30) scale(0.840,1)" font-family="Liberation Sans" font-weight="normal" font-size="11">3</text>
<text transform="translate(502.26,787.90) scale(0.840,1)" font-family="Liberation Sans" font-weight="normal" font-size="11">10</text>
<text transform="translate(512.83,782.30) scale(0.840,1)" font-family="Liberation Sans" font-weight="normal" font-size="11">4</text>
<text transform="translate(450.25,798.20) scale(0.950,1)" font-family="Liberation Sans" font-weight="normal" font-size="10.5" text-anchor="middle">FL2-H</text>
<text transform="translate(384.00,770.10) rotate(-90) scale(0.900,1)" font-family="Liberation Sans" font-weight="normal" font-size="10.5" text-anchor="middle">0</text>
<text transform="translate(384.00,752.56) rotate(-90) scale(0.900,1)" font-family="Liberation Sans" font-weight="normal" font-size="10.5" text-anchor="middle">10</text>
<text transform="translate(384.00,735.02) rotate(-90) scale(0.900,1)" font-family="Liberation Sans" font-weight="normal" font-size="10.5" text-anchor="middle">20</text>
<text transform="translate(384.00,717.48) rotate(-90) scale(0.900,1)" font-family="Liberation Sans" font-weight="normal" font-size="10.5" text-anchor="middle">30</text>
<text transform="translate(384.00,699.94) rotate(-90) scale(0.900,1)" font-family="Liberation Sans" font-weight="normal" font-size="10.5" text-anchor="middle">40</text>
<text transform="translate(384.00,682.40) rotate(-90) scale(0.900,1)" font-family="Liberation Sans" font-weight="normal" font-size="10.5" text-anchor="middle">50</text>
<text transform="translate(373.00,727.35) rotate(-90) scale(0.980,1)" font-family="Liberation Sans" font-weight="normal" font-size="10.5" text-anchor="middle">Counts</text>
<text transform="translate(483.81,700.90) scale(1.046,1)" font-family="Liberation Serif" font-weight="normal" font-size="15.54" fill="#000">R4</text>
</svg>
</body></html>
